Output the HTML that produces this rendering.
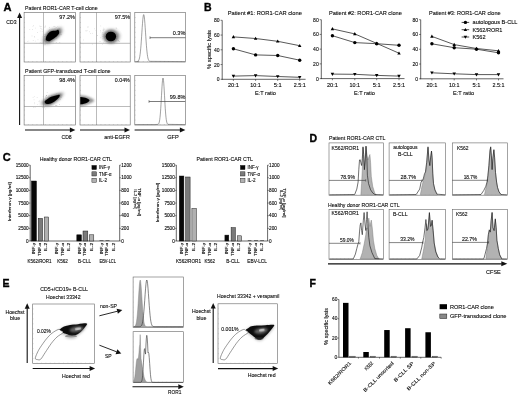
<!DOCTYPE html>
<html><head><meta charset="utf-8"><style>
html,body{margin:0;padding:0;background:#fff;width:520px;height:398px;overflow:hidden}
svg{display:block}
text{font-family:'Liberation Sans', sans-serif;stroke:#222;stroke-width:0.12px}
</style></head><body>
<svg width="520" height="398" viewBox="0 0 520 398">
<defs>
<filter id="b05" x="-50%" y="-50%" width="200%" height="200%"><feGaussianBlur stdDeviation="0.5"/></filter>
<filter id="b07" x="-50%" y="-50%" width="200%" height="200%"><feGaussianBlur stdDeviation="0.7"/></filter>
<filter id="b1" x="-50%" y="-50%" width="200%" height="200%"><feGaussianBlur stdDeviation="0.9"/></filter>
<filter id="b2" x="-50%" y="-50%" width="200%" height="200%"><feGaussianBlur stdDeviation="1.8"/></filter>
</defs>
<rect width="520" height="398" fill="#fff"/>
<text x="3.60" y="10.60" font-size="10.5" textLength="8.00" lengthAdjust="spacingAndGlyphs" font-weight="bold" style="stroke:#000;stroke-width:0.35px" fill="#000" >A</text>
<text x="25.10" y="10.30" font-size="6.0" textLength="72.50" lengthAdjust="spacingAndGlyphs" >Patient ROR1-CAR T-cell clone</text>
<text x="25.10" y="73.30" font-size="6.0" textLength="85.50" lengthAdjust="spacingAndGlyphs" >Patient GFP-transduced T-cell clone</text>
<rect x="24.10" y="12.60" width="51.30" height="49.40" fill="none" stroke="#666" stroke-width="0.6" />
<line x1="28.38" y1="61.10" x2="28.38" y2="62.00" stroke="#999" stroke-width="0.4" />
<line x1="32.65" y1="61.10" x2="32.65" y2="62.00" stroke="#999" stroke-width="0.4" />
<line x1="36.93" y1="61.10" x2="36.93" y2="62.00" stroke="#999" stroke-width="0.4" />
<line x1="41.20" y1="61.10" x2="41.20" y2="62.00" stroke="#999" stroke-width="0.4" />
<line x1="45.48" y1="61.10" x2="45.48" y2="62.00" stroke="#999" stroke-width="0.4" />
<line x1="49.75" y1="61.10" x2="49.75" y2="62.00" stroke="#999" stroke-width="0.4" />
<line x1="54.03" y1="61.10" x2="54.03" y2="62.00" stroke="#999" stroke-width="0.4" />
<line x1="58.30" y1="61.10" x2="58.30" y2="62.00" stroke="#999" stroke-width="0.4" />
<line x1="62.58" y1="61.10" x2="62.58" y2="62.00" stroke="#999" stroke-width="0.4" />
<line x1="66.85" y1="61.10" x2="66.85" y2="62.00" stroke="#999" stroke-width="0.4" />
<line x1="71.12" y1="61.10" x2="71.12" y2="62.00" stroke="#999" stroke-width="0.4" />
<line x1="24.10" y1="17.54" x2="25.00" y2="17.54" stroke="#999" stroke-width="0.4" />
<line x1="24.10" y1="22.48" x2="25.00" y2="22.48" stroke="#999" stroke-width="0.4" />
<line x1="24.10" y1="27.42" x2="25.00" y2="27.42" stroke="#999" stroke-width="0.4" />
<line x1="24.10" y1="32.36" x2="25.00" y2="32.36" stroke="#999" stroke-width="0.4" />
<line x1="24.10" y1="37.30" x2="25.00" y2="37.30" stroke="#999" stroke-width="0.4" />
<line x1="24.10" y1="42.24" x2="25.00" y2="42.24" stroke="#999" stroke-width="0.4" />
<line x1="24.10" y1="47.18" x2="25.00" y2="47.18" stroke="#999" stroke-width="0.4" />
<line x1="24.10" y1="52.12" x2="25.00" y2="52.12" stroke="#999" stroke-width="0.4" />
<line x1="24.10" y1="57.06" x2="25.00" y2="57.06" stroke="#999" stroke-width="0.4" />
<line x1="43.50" y1="12.60" x2="43.50" y2="62.00" stroke="#777" stroke-width="0.5" />
<line x1="24.10" y1="43.30" x2="75.40" y2="43.30" stroke="#777" stroke-width="0.5" />
<rect x="80.00" y="12.60" width="50.20" height="49.40" fill="none" stroke="#666" stroke-width="0.6" />
<line x1="84.18" y1="61.10" x2="84.18" y2="62.00" stroke="#999" stroke-width="0.4" />
<line x1="88.37" y1="61.10" x2="88.37" y2="62.00" stroke="#999" stroke-width="0.4" />
<line x1="92.55" y1="61.10" x2="92.55" y2="62.00" stroke="#999" stroke-width="0.4" />
<line x1="96.73" y1="61.10" x2="96.73" y2="62.00" stroke="#999" stroke-width="0.4" />
<line x1="100.92" y1="61.10" x2="100.92" y2="62.00" stroke="#999" stroke-width="0.4" />
<line x1="105.10" y1="61.10" x2="105.10" y2="62.00" stroke="#999" stroke-width="0.4" />
<line x1="109.28" y1="61.10" x2="109.28" y2="62.00" stroke="#999" stroke-width="0.4" />
<line x1="113.47" y1="61.10" x2="113.47" y2="62.00" stroke="#999" stroke-width="0.4" />
<line x1="117.65" y1="61.10" x2="117.65" y2="62.00" stroke="#999" stroke-width="0.4" />
<line x1="121.83" y1="61.10" x2="121.83" y2="62.00" stroke="#999" stroke-width="0.4" />
<line x1="126.02" y1="61.10" x2="126.02" y2="62.00" stroke="#999" stroke-width="0.4" />
<line x1="80.00" y1="17.54" x2="80.90" y2="17.54" stroke="#999" stroke-width="0.4" />
<line x1="80.00" y1="22.48" x2="80.90" y2="22.48" stroke="#999" stroke-width="0.4" />
<line x1="80.00" y1="27.42" x2="80.90" y2="27.42" stroke="#999" stroke-width="0.4" />
<line x1="80.00" y1="32.36" x2="80.90" y2="32.36" stroke="#999" stroke-width="0.4" />
<line x1="80.00" y1="37.30" x2="80.90" y2="37.30" stroke="#999" stroke-width="0.4" />
<line x1="80.00" y1="42.24" x2="80.90" y2="42.24" stroke="#999" stroke-width="0.4" />
<line x1="80.00" y1="47.18" x2="80.90" y2="47.18" stroke="#999" stroke-width="0.4" />
<line x1="80.00" y1="52.12" x2="80.90" y2="52.12" stroke="#999" stroke-width="0.4" />
<line x1="80.00" y1="57.06" x2="80.90" y2="57.06" stroke="#999" stroke-width="0.4" />
<line x1="96.50" y1="12.60" x2="96.50" y2="62.00" stroke="#777" stroke-width="0.5" />
<line x1="80.00" y1="43.30" x2="130.20" y2="43.30" stroke="#777" stroke-width="0.5" />
<rect x="134.80" y="12.60" width="50.70" height="49.40" fill="none" stroke="#666" stroke-width="0.6" />
<line x1="139.03" y1="61.10" x2="139.03" y2="62.00" stroke="#999" stroke-width="0.4" />
<line x1="143.25" y1="61.10" x2="143.25" y2="62.00" stroke="#999" stroke-width="0.4" />
<line x1="147.48" y1="61.10" x2="147.48" y2="62.00" stroke="#999" stroke-width="0.4" />
<line x1="151.70" y1="61.10" x2="151.70" y2="62.00" stroke="#999" stroke-width="0.4" />
<line x1="155.93" y1="61.10" x2="155.93" y2="62.00" stroke="#999" stroke-width="0.4" />
<line x1="160.15" y1="61.10" x2="160.15" y2="62.00" stroke="#999" stroke-width="0.4" />
<line x1="164.38" y1="61.10" x2="164.38" y2="62.00" stroke="#999" stroke-width="0.4" />
<line x1="168.60" y1="61.10" x2="168.60" y2="62.00" stroke="#999" stroke-width="0.4" />
<line x1="172.82" y1="61.10" x2="172.82" y2="62.00" stroke="#999" stroke-width="0.4" />
<line x1="177.05" y1="61.10" x2="177.05" y2="62.00" stroke="#999" stroke-width="0.4" />
<line x1="181.28" y1="61.10" x2="181.28" y2="62.00" stroke="#999" stroke-width="0.4" />
<line x1="134.80" y1="17.54" x2="135.70" y2="17.54" stroke="#999" stroke-width="0.4" />
<line x1="134.80" y1="22.48" x2="135.70" y2="22.48" stroke="#999" stroke-width="0.4" />
<line x1="134.80" y1="27.42" x2="135.70" y2="27.42" stroke="#999" stroke-width="0.4" />
<line x1="134.80" y1="32.36" x2="135.70" y2="32.36" stroke="#999" stroke-width="0.4" />
<line x1="134.80" y1="37.30" x2="135.70" y2="37.30" stroke="#999" stroke-width="0.4" />
<line x1="134.80" y1="42.24" x2="135.70" y2="42.24" stroke="#999" stroke-width="0.4" />
<line x1="134.80" y1="47.18" x2="135.70" y2="47.18" stroke="#999" stroke-width="0.4" />
<line x1="134.80" y1="52.12" x2="135.70" y2="52.12" stroke="#999" stroke-width="0.4" />
<line x1="134.80" y1="57.06" x2="135.70" y2="57.06" stroke="#999" stroke-width="0.4" />
<rect x="24.10" y="75.50" width="51.30" height="49.50" fill="none" stroke="#666" stroke-width="0.6" />
<line x1="28.38" y1="124.10" x2="28.38" y2="125.00" stroke="#999" stroke-width="0.4" />
<line x1="32.65" y1="124.10" x2="32.65" y2="125.00" stroke="#999" stroke-width="0.4" />
<line x1="36.93" y1="124.10" x2="36.93" y2="125.00" stroke="#999" stroke-width="0.4" />
<line x1="41.20" y1="124.10" x2="41.20" y2="125.00" stroke="#999" stroke-width="0.4" />
<line x1="45.48" y1="124.10" x2="45.48" y2="125.00" stroke="#999" stroke-width="0.4" />
<line x1="49.75" y1="124.10" x2="49.75" y2="125.00" stroke="#999" stroke-width="0.4" />
<line x1="54.03" y1="124.10" x2="54.03" y2="125.00" stroke="#999" stroke-width="0.4" />
<line x1="58.30" y1="124.10" x2="58.30" y2="125.00" stroke="#999" stroke-width="0.4" />
<line x1="62.58" y1="124.10" x2="62.58" y2="125.00" stroke="#999" stroke-width="0.4" />
<line x1="66.85" y1="124.10" x2="66.85" y2="125.00" stroke="#999" stroke-width="0.4" />
<line x1="71.12" y1="124.10" x2="71.12" y2="125.00" stroke="#999" stroke-width="0.4" />
<line x1="24.10" y1="80.45" x2="25.00" y2="80.45" stroke="#999" stroke-width="0.4" />
<line x1="24.10" y1="85.40" x2="25.00" y2="85.40" stroke="#999" stroke-width="0.4" />
<line x1="24.10" y1="90.35" x2="25.00" y2="90.35" stroke="#999" stroke-width="0.4" />
<line x1="24.10" y1="95.30" x2="25.00" y2="95.30" stroke="#999" stroke-width="0.4" />
<line x1="24.10" y1="100.25" x2="25.00" y2="100.25" stroke="#999" stroke-width="0.4" />
<line x1="24.10" y1="105.20" x2="25.00" y2="105.20" stroke="#999" stroke-width="0.4" />
<line x1="24.10" y1="110.15" x2="25.00" y2="110.15" stroke="#999" stroke-width="0.4" />
<line x1="24.10" y1="115.10" x2="25.00" y2="115.10" stroke="#999" stroke-width="0.4" />
<line x1="24.10" y1="120.05" x2="25.00" y2="120.05" stroke="#999" stroke-width="0.4" />
<line x1="43.50" y1="75.50" x2="43.50" y2="125.00" stroke="#777" stroke-width="0.5" />
<line x1="24.10" y1="106.50" x2="75.40" y2="106.50" stroke="#777" stroke-width="0.5" />
<rect x="80.00" y="75.50" width="50.20" height="49.50" fill="none" stroke="#666" stroke-width="0.6" />
<line x1="84.18" y1="124.10" x2="84.18" y2="125.00" stroke="#999" stroke-width="0.4" />
<line x1="88.37" y1="124.10" x2="88.37" y2="125.00" stroke="#999" stroke-width="0.4" />
<line x1="92.55" y1="124.10" x2="92.55" y2="125.00" stroke="#999" stroke-width="0.4" />
<line x1="96.73" y1="124.10" x2="96.73" y2="125.00" stroke="#999" stroke-width="0.4" />
<line x1="100.92" y1="124.10" x2="100.92" y2="125.00" stroke="#999" stroke-width="0.4" />
<line x1="105.10" y1="124.10" x2="105.10" y2="125.00" stroke="#999" stroke-width="0.4" />
<line x1="109.28" y1="124.10" x2="109.28" y2="125.00" stroke="#999" stroke-width="0.4" />
<line x1="113.47" y1="124.10" x2="113.47" y2="125.00" stroke="#999" stroke-width="0.4" />
<line x1="117.65" y1="124.10" x2="117.65" y2="125.00" stroke="#999" stroke-width="0.4" />
<line x1="121.83" y1="124.10" x2="121.83" y2="125.00" stroke="#999" stroke-width="0.4" />
<line x1="126.02" y1="124.10" x2="126.02" y2="125.00" stroke="#999" stroke-width="0.4" />
<line x1="80.00" y1="80.45" x2="80.90" y2="80.45" stroke="#999" stroke-width="0.4" />
<line x1="80.00" y1="85.40" x2="80.90" y2="85.40" stroke="#999" stroke-width="0.4" />
<line x1="80.00" y1="90.35" x2="80.90" y2="90.35" stroke="#999" stroke-width="0.4" />
<line x1="80.00" y1="95.30" x2="80.90" y2="95.30" stroke="#999" stroke-width="0.4" />
<line x1="80.00" y1="100.25" x2="80.90" y2="100.25" stroke="#999" stroke-width="0.4" />
<line x1="80.00" y1="105.20" x2="80.90" y2="105.20" stroke="#999" stroke-width="0.4" />
<line x1="80.00" y1="110.15" x2="80.90" y2="110.15" stroke="#999" stroke-width="0.4" />
<line x1="80.00" y1="115.10" x2="80.90" y2="115.10" stroke="#999" stroke-width="0.4" />
<line x1="80.00" y1="120.05" x2="80.90" y2="120.05" stroke="#999" stroke-width="0.4" />
<line x1="96.50" y1="75.50" x2="96.50" y2="125.00" stroke="#777" stroke-width="0.5" />
<line x1="80.00" y1="106.50" x2="130.20" y2="106.50" stroke="#777" stroke-width="0.5" />
<rect x="134.80" y="75.50" width="50.70" height="49.50" fill="none" stroke="#666" stroke-width="0.6" />
<line x1="139.03" y1="124.10" x2="139.03" y2="125.00" stroke="#999" stroke-width="0.4" />
<line x1="143.25" y1="124.10" x2="143.25" y2="125.00" stroke="#999" stroke-width="0.4" />
<line x1="147.48" y1="124.10" x2="147.48" y2="125.00" stroke="#999" stroke-width="0.4" />
<line x1="151.70" y1="124.10" x2="151.70" y2="125.00" stroke="#999" stroke-width="0.4" />
<line x1="155.93" y1="124.10" x2="155.93" y2="125.00" stroke="#999" stroke-width="0.4" />
<line x1="160.15" y1="124.10" x2="160.15" y2="125.00" stroke="#999" stroke-width="0.4" />
<line x1="164.38" y1="124.10" x2="164.38" y2="125.00" stroke="#999" stroke-width="0.4" />
<line x1="168.60" y1="124.10" x2="168.60" y2="125.00" stroke="#999" stroke-width="0.4" />
<line x1="172.82" y1="124.10" x2="172.82" y2="125.00" stroke="#999" stroke-width="0.4" />
<line x1="177.05" y1="124.10" x2="177.05" y2="125.00" stroke="#999" stroke-width="0.4" />
<line x1="181.28" y1="124.10" x2="181.28" y2="125.00" stroke="#999" stroke-width="0.4" />
<line x1="134.80" y1="80.45" x2="135.70" y2="80.45" stroke="#999" stroke-width="0.4" />
<line x1="134.80" y1="85.40" x2="135.70" y2="85.40" stroke="#999" stroke-width="0.4" />
<line x1="134.80" y1="90.35" x2="135.70" y2="90.35" stroke="#999" stroke-width="0.4" />
<line x1="134.80" y1="95.30" x2="135.70" y2="95.30" stroke="#999" stroke-width="0.4" />
<line x1="134.80" y1="100.25" x2="135.70" y2="100.25" stroke="#999" stroke-width="0.4" />
<line x1="134.80" y1="105.20" x2="135.70" y2="105.20" stroke="#999" stroke-width="0.4" />
<line x1="134.80" y1="110.15" x2="135.70" y2="110.15" stroke="#999" stroke-width="0.4" />
<line x1="134.80" y1="115.10" x2="135.70" y2="115.10" stroke="#999" stroke-width="0.4" />
<line x1="134.80" y1="120.05" x2="135.70" y2="120.05" stroke="#999" stroke-width="0.4" />
<text x="74.80" y="19.00" font-size="5.8" text-anchor="end" textLength="15.50" lengthAdjust="spacingAndGlyphs" >97.2%</text>
<text x="130.20" y="19.00" font-size="5.8" text-anchor="end" textLength="15.50" lengthAdjust="spacingAndGlyphs" >97.5%</text>
<text x="74.80" y="82.00" font-size="5.8" text-anchor="end" textLength="15.50" lengthAdjust="spacingAndGlyphs" >98.4%</text>
<text x="129.80" y="82.00" font-size="5.8" text-anchor="end" textLength="15.00" lengthAdjust="spacingAndGlyphs" >0.04%</text>
<circle cx="32.00" cy="35.88" r="0.35" fill="#bbb"/>
<circle cx="34.77" cy="37.08" r="0.35" fill="#bbb"/>
<circle cx="40.14" cy="26.31" r="0.35" fill="#bbb"/>
<circle cx="27.28" cy="41.75" r="0.35" fill="#bbb"/>
<circle cx="32.45" cy="29.69" r="0.35" fill="#bbb"/>
<circle cx="47.91" cy="34.41" r="0.35" fill="#bbb"/>
<circle cx="44.57" cy="34.53" r="0.35" fill="#bbb"/>
<circle cx="40.42" cy="28.01" r="0.35" fill="#bbb"/>
<circle cx="40.33" cy="42.36" r="0.35" fill="#bbb"/>
<circle cx="37.99" cy="39.83" r="0.35" fill="#bbb"/>
<circle cx="41.10" cy="26.28" r="0.35" fill="#bbb"/>
<circle cx="42.92" cy="36.82" r="0.35" fill="#bbb"/>
<circle cx="33.33" cy="25.62" r="0.35" fill="#bbb"/>
<circle cx="45.18" cy="34.45" r="0.35" fill="#bbb"/>
<circle cx="42.10" cy="42.58" r="0.35" fill="#bbb"/>
<circle cx="42.00" cy="43.42" r="0.35" fill="#bbb"/>
<circle cx="35.29" cy="41.02" r="0.35" fill="#bbb"/>
<circle cx="36.34" cy="43.71" r="0.35" fill="#bbb"/>
<circle cx="45.46" cy="26.95" r="0.35" fill="#bbb"/>
<circle cx="29.86" cy="29.34" r="0.35" fill="#bbb"/>
<circle cx="47.28" cy="33.72" r="0.35" fill="#bbb"/>
<circle cx="40.16" cy="31.02" r="0.35" fill="#bbb"/>
<circle cx="37.65" cy="32.72" r="0.35" fill="#bbb"/>
<circle cx="34.37" cy="36.70" r="0.35" fill="#bbb"/>
<circle cx="39.27" cy="43.08" r="0.35" fill="#bbb"/>
<circle cx="41.32" cy="43.58" r="0.35" fill="#bbb"/>
<circle cx="44.98" cy="44.82" r="0.35" fill="#bbb"/>
<circle cx="41.10" cy="28.26" r="0.35" fill="#bbb"/>
<circle cx="45.07" cy="44.29" r="0.35" fill="#bbb"/>
<circle cx="46.00" cy="36.38" r="0.35" fill="#bbb"/>
<circle cx="41.99" cy="29.22" r="0.35" fill="#bbb"/>
<circle cx="44.46" cy="36.47" r="0.35" fill="#bbb"/>
<circle cx="32.98" cy="26.27" r="0.35" fill="#bbb"/>
<circle cx="44.93" cy="44.80" r="0.35" fill="#bbb"/>
<circle cx="28.86" cy="41.01" r="0.35" fill="#bbb"/>
<circle cx="35.62" cy="28.02" r="0.35" fill="#bbb"/>
<circle cx="33.17" cy="40.38" r="0.35" fill="#bbb"/>
<circle cx="45.33" cy="25.88" r="0.35" fill="#bbb"/>
<circle cx="39.91" cy="25.90" r="0.35" fill="#bbb"/>
<circle cx="42.09" cy="31.62" r="0.35" fill="#bbb"/>
<circle cx="59.86" cy="42.67" r="0.3" fill="#999"/>
<circle cx="53.10" cy="42.97" r="0.3" fill="#999"/>
<circle cx="49.57" cy="27.31" r="0.3" fill="#999"/>
<circle cx="54.80" cy="26.53" r="0.3" fill="#999"/>
<circle cx="47.55" cy="32.93" r="0.3" fill="#999"/>
<circle cx="54.99" cy="28.66" r="0.3" fill="#999"/>
<circle cx="44.76" cy="40.75" r="0.3" fill="#999"/>
<circle cx="49.65" cy="42.30" r="0.3" fill="#999"/>
<circle cx="60.14" cy="32.42" r="0.3" fill="#999"/>
<circle cx="52.29" cy="34.84" r="0.3" fill="#999"/>
<circle cx="55.59" cy="36.13" r="0.3" fill="#999"/>
<circle cx="54.07" cy="36.54" r="0.3" fill="#999"/>
<circle cx="60.93" cy="34.62" r="0.3" fill="#999"/>
<circle cx="51.76" cy="38.25" r="0.3" fill="#999"/>
<circle cx="48.28" cy="31.12" r="0.3" fill="#999"/>
<circle cx="61.60" cy="34.86" r="0.3" fill="#999"/>
<circle cx="53.87" cy="26.19" r="0.3" fill="#999"/>
<circle cx="51.47" cy="35.86" r="0.3" fill="#999"/>
<circle cx="44.36" cy="36.47" r="0.3" fill="#999"/>
<circle cx="55.38" cy="27.02" r="0.3" fill="#999"/>
<circle cx="55.29" cy="33.93" r="0.3" fill="#999"/>
<circle cx="56.23" cy="31.99" r="0.3" fill="#999"/>
<circle cx="56.73" cy="38.55" r="0.3" fill="#999"/>
<circle cx="44.40" cy="27.03" r="0.3" fill="#999"/>
<circle cx="56.17" cy="42.38" r="0.3" fill="#999"/>
<circle cx="48.52" cy="33.76" r="0.3" fill="#999"/>
<circle cx="54.67" cy="31.44" r="0.3" fill="#999"/>
<circle cx="50.55" cy="31.32" r="0.3" fill="#999"/>
<circle cx="50.64" cy="36.13" r="0.3" fill="#999"/>
<circle cx="49.41" cy="32.41" r="0.3" fill="#999"/>
<circle cx="57.90" cy="26.46" r="0.3" fill="#999"/>
<circle cx="54.25" cy="38.50" r="0.3" fill="#999"/>
<circle cx="49.58" cy="29.78" r="0.3" fill="#999"/>
<circle cx="58.47" cy="30.06" r="0.3" fill="#999"/>
<circle cx="47.37" cy="33.40" r="0.3" fill="#999"/>
<circle cx="56.57" cy="27.73" r="0.3" fill="#999"/>
<circle cx="49.80" cy="31.67" r="0.3" fill="#999"/>
<circle cx="59.00" cy="33.45" r="0.3" fill="#999"/>
<circle cx="59.40" cy="28.88" r="0.3" fill="#999"/>
<circle cx="50.06" cy="37.05" r="0.3" fill="#999"/>
<path d="M42.43,41.95 C42.43,40.67 42.80,37.79 44.03,35.71 C45.25,33.63 47.39,30.75 49.79,29.47 C52.19,28.19 56.51,28.45 58.43,28.03 C60.35,27.60 60.59,26.27 61.31,26.91 C62.03,27.55 63.23,30.08 62.75,31.87 C62.27,33.65 60.75,35.63 58.43,37.63 C56.11,39.63 51.23,42.91 48.83,43.87 C46.43,44.83 45.09,43.71 44.03,43.39 C42.96,43.07 42.43,43.23 42.43,41.95 Z" fill="#888" opacity="0.6" filter="url(#b2)"/>
<path d="M44.26,40.72 C44.26,39.68 44.57,37.34 45.56,35.65 C46.56,33.96 48.29,31.62 50.24,30.58 C52.19,29.54 55.70,29.76 57.26,29.41 C58.82,29.07 59.02,27.98 59.60,28.50 C60.19,29.02 61.16,31.08 60.77,32.53 C60.38,33.99 59.15,35.59 57.26,37.21 C55.38,38.84 51.41,41.50 49.46,42.28 C47.51,43.06 46.43,42.15 45.56,41.89 C44.70,41.63 44.26,41.76 44.26,40.72 Z" fill="#555" opacity="0.7" filter="url(#b1)"/>
<path d="M45.79,39.70 C45.79,38.86 46.04,36.97 46.84,35.61 C47.65,34.24 49.05,32.35 50.62,31.51 C52.20,30.67 55.03,30.85 56.29,30.57 C57.55,30.29 57.71,29.41 58.18,29.83 C58.66,30.25 59.44,31.92 59.13,33.09 C58.81,34.26 57.82,35.56 56.29,36.87 C54.77,38.18 51.57,40.33 49.99,40.96 C48.42,41.59 47.54,40.86 46.84,40.65 C46.14,40.44 45.79,40.54 45.79,39.70 Z" fill="#000" opacity="1.0" filter="url(#b07)"/>
<circle cx="102.47" cy="34.02" r="0.35" fill="#bbb"/>
<circle cx="87.95" cy="27.42" r="0.35" fill="#bbb"/>
<circle cx="94.65" cy="28.82" r="0.35" fill="#bbb"/>
<circle cx="100.75" cy="41.77" r="0.35" fill="#bbb"/>
<circle cx="87.04" cy="30.57" r="0.35" fill="#bbb"/>
<circle cx="100.76" cy="37.84" r="0.35" fill="#bbb"/>
<circle cx="100.74" cy="31.91" r="0.35" fill="#bbb"/>
<circle cx="85.85" cy="30.84" r="0.35" fill="#bbb"/>
<circle cx="100.46" cy="30.42" r="0.35" fill="#bbb"/>
<circle cx="90.62" cy="33.34" r="0.35" fill="#bbb"/>
<circle cx="92.23" cy="33.19" r="0.35" fill="#bbb"/>
<circle cx="103.25" cy="28.12" r="0.35" fill="#bbb"/>
<circle cx="83.10" cy="43.87" r="0.35" fill="#bbb"/>
<circle cx="102.36" cy="44.74" r="0.35" fill="#bbb"/>
<circle cx="92.56" cy="44.00" r="0.35" fill="#bbb"/>
<circle cx="103.40" cy="29.44" r="0.35" fill="#bbb"/>
<circle cx="99.40" cy="41.73" r="0.35" fill="#bbb"/>
<circle cx="97.59" cy="35.38" r="0.35" fill="#bbb"/>
<circle cx="89.36" cy="31.82" r="0.35" fill="#bbb"/>
<circle cx="88.00" cy="26.36" r="0.35" fill="#bbb"/>
<circle cx="95.95" cy="30.74" r="0.35" fill="#bbb"/>
<circle cx="100.82" cy="25.90" r="0.35" fill="#bbb"/>
<circle cx="102.88" cy="38.87" r="0.35" fill="#bbb"/>
<circle cx="103.32" cy="42.93" r="0.35" fill="#bbb"/>
<circle cx="102.79" cy="36.54" r="0.35" fill="#bbb"/>
<circle cx="83.29" cy="39.91" r="0.35" fill="#bbb"/>
<circle cx="86.78" cy="31.00" r="0.35" fill="#bbb"/>
<circle cx="97.58" cy="35.50" r="0.35" fill="#bbb"/>
<circle cx="92.10" cy="43.78" r="0.35" fill="#bbb"/>
<circle cx="96.47" cy="31.83" r="0.35" fill="#bbb"/>
<circle cx="106.54" cy="41.79" r="0.3" fill="#999"/>
<circle cx="110.59" cy="40.52" r="0.3" fill="#999"/>
<circle cx="108.33" cy="31.16" r="0.3" fill="#999"/>
<circle cx="111.62" cy="41.07" r="0.3" fill="#999"/>
<circle cx="105.08" cy="40.67" r="0.3" fill="#999"/>
<circle cx="118.59" cy="40.90" r="0.3" fill="#999"/>
<circle cx="116.82" cy="28.12" r="0.3" fill="#999"/>
<circle cx="113.31" cy="41.80" r="0.3" fill="#999"/>
<circle cx="102.90" cy="32.34" r="0.3" fill="#999"/>
<circle cx="106.83" cy="36.44" r="0.3" fill="#999"/>
<circle cx="109.61" cy="35.57" r="0.3" fill="#999"/>
<circle cx="115.98" cy="28.03" r="0.3" fill="#999"/>
<circle cx="102.99" cy="30.03" r="0.3" fill="#999"/>
<circle cx="104.24" cy="29.09" r="0.3" fill="#999"/>
<circle cx="119.54" cy="41.67" r="0.3" fill="#999"/>
<circle cx="103.55" cy="36.03" r="0.3" fill="#999"/>
<circle cx="107.69" cy="33.03" r="0.3" fill="#999"/>
<circle cx="108.32" cy="38.35" r="0.3" fill="#999"/>
<circle cx="112.56" cy="33.77" r="0.3" fill="#999"/>
<circle cx="105.44" cy="33.26" r="0.3" fill="#999"/>
<circle cx="104.23" cy="36.89" r="0.3" fill="#999"/>
<circle cx="114.89" cy="34.08" r="0.3" fill="#999"/>
<circle cx="103.44" cy="30.86" r="0.3" fill="#999"/>
<circle cx="108.72" cy="37.67" r="0.3" fill="#999"/>
<circle cx="116.09" cy="34.08" r="0.3" fill="#999"/>
<circle cx="116.42" cy="37.97" r="0.3" fill="#999"/>
<circle cx="109.77" cy="33.96" r="0.3" fill="#999"/>
<circle cx="110.93" cy="39.25" r="0.3" fill="#999"/>
<circle cx="109.57" cy="39.11" r="0.3" fill="#999"/>
<circle cx="110.30" cy="31.92" r="0.3" fill="#999"/>
<circle cx="111.65" cy="39.12" r="0.3" fill="#999"/>
<circle cx="103.29" cy="34.80" r="0.3" fill="#999"/>
<circle cx="109.67" cy="42.07" r="0.3" fill="#999"/>
<circle cx="118.86" cy="33.99" r="0.3" fill="#999"/>
<circle cx="118.16" cy="40.65" r="0.3" fill="#999"/>
<circle cx="106.72" cy="35.43" r="0.3" fill="#999"/>
<circle cx="104.22" cy="41.01" r="0.3" fill="#999"/>
<circle cx="113.92" cy="42.20" r="0.3" fill="#999"/>
<circle cx="116.26" cy="38.68" r="0.3" fill="#999"/>
<circle cx="115.21" cy="37.02" r="0.3" fill="#999"/>
<ellipse cx="111.3" cy="36.3" rx="9.0" ry="7.2" fill="#888" opacity="0.6" filter="url(#b2)"/>
<ellipse cx="110.9" cy="36.5" rx="7.0" ry="6.4" fill="#555" opacity="0.7" filter="url(#b1)"/>
<ellipse cx="110.9" cy="36.5" rx="5.2" ry="4.8" fill="#000" filter="url(#b07)"/>
<circle cx="34.75" cy="103.82" r="0.35" fill="#bbb"/>
<circle cx="33.08" cy="97.15" r="0.35" fill="#bbb"/>
<circle cx="46.16" cy="95.66" r="0.35" fill="#bbb"/>
<circle cx="34.56" cy="96.49" r="0.35" fill="#bbb"/>
<circle cx="47.97" cy="97.69" r="0.35" fill="#bbb"/>
<circle cx="33.40" cy="107.62" r="0.35" fill="#bbb"/>
<circle cx="35.06" cy="107.66" r="0.35" fill="#bbb"/>
<circle cx="44.45" cy="107.54" r="0.35" fill="#bbb"/>
<circle cx="49.19" cy="103.69" r="0.35" fill="#bbb"/>
<circle cx="46.58" cy="95.54" r="0.35" fill="#bbb"/>
<circle cx="46.05" cy="102.67" r="0.35" fill="#bbb"/>
<circle cx="45.16" cy="96.60" r="0.35" fill="#bbb"/>
<circle cx="45.73" cy="109.02" r="0.35" fill="#bbb"/>
<circle cx="34.04" cy="99.86" r="0.35" fill="#bbb"/>
<circle cx="42.59" cy="107.42" r="0.35" fill="#bbb"/>
<circle cx="37.12" cy="97.70" r="0.35" fill="#bbb"/>
<circle cx="37.25" cy="104.24" r="0.35" fill="#bbb"/>
<circle cx="45.81" cy="100.91" r="0.35" fill="#bbb"/>
<circle cx="39.25" cy="100.95" r="0.35" fill="#bbb"/>
<circle cx="38.95" cy="101.27" r="0.35" fill="#bbb"/>
<circle cx="34.42" cy="102.50" r="0.35" fill="#bbb"/>
<circle cx="49.54" cy="101.19" r="0.35" fill="#bbb"/>
<circle cx="45.71" cy="97.41" r="0.35" fill="#bbb"/>
<circle cx="44.74" cy="106.34" r="0.35" fill="#bbb"/>
<circle cx="44.46" cy="102.76" r="0.35" fill="#bbb"/>
<circle cx="52.19" cy="101.00" r="0.3" fill="#999"/>
<circle cx="60.05" cy="94.09" r="0.3" fill="#999"/>
<circle cx="44.82" cy="102.47" r="0.3" fill="#999"/>
<circle cx="60.42" cy="99.24" r="0.3" fill="#999"/>
<circle cx="51.42" cy="102.06" r="0.3" fill="#999"/>
<circle cx="46.54" cy="95.74" r="0.3" fill="#999"/>
<circle cx="46.78" cy="100.20" r="0.3" fill="#999"/>
<circle cx="48.98" cy="95.25" r="0.3" fill="#999"/>
<circle cx="56.13" cy="105.35" r="0.3" fill="#999"/>
<circle cx="48.62" cy="101.87" r="0.3" fill="#999"/>
<circle cx="50.85" cy="103.95" r="0.3" fill="#999"/>
<circle cx="54.11" cy="95.74" r="0.3" fill="#999"/>
<circle cx="47.13" cy="92.32" r="0.3" fill="#999"/>
<circle cx="52.11" cy="97.36" r="0.3" fill="#999"/>
<circle cx="46.27" cy="97.05" r="0.3" fill="#999"/>
<circle cx="49.12" cy="102.84" r="0.3" fill="#999"/>
<circle cx="45.73" cy="105.88" r="0.3" fill="#999"/>
<circle cx="52.11" cy="100.39" r="0.3" fill="#999"/>
<circle cx="51.89" cy="103.68" r="0.3" fill="#999"/>
<circle cx="58.61" cy="99.80" r="0.3" fill="#999"/>
<circle cx="52.14" cy="102.09" r="0.3" fill="#999"/>
<circle cx="59.28" cy="97.60" r="0.3" fill="#999"/>
<circle cx="56.94" cy="105.44" r="0.3" fill="#999"/>
<circle cx="51.88" cy="95.21" r="0.3" fill="#999"/>
<circle cx="47.46" cy="102.05" r="0.3" fill="#999"/>
<circle cx="55.83" cy="105.42" r="0.3" fill="#999"/>
<circle cx="59.22" cy="95.39" r="0.3" fill="#999"/>
<circle cx="46.60" cy="95.62" r="0.3" fill="#999"/>
<circle cx="46.56" cy="101.87" r="0.3" fill="#999"/>
<circle cx="59.31" cy="104.60" r="0.3" fill="#999"/>
<circle cx="47.85" cy="104.11" r="0.3" fill="#999"/>
<circle cx="48.95" cy="97.93" r="0.3" fill="#999"/>
<circle cx="56.85" cy="93.20" r="0.3" fill="#999"/>
<circle cx="44.76" cy="103.68" r="0.3" fill="#999"/>
<circle cx="48.54" cy="96.99" r="0.3" fill="#999"/>
<circle cx="54.03" cy="101.46" r="0.3" fill="#999"/>
<circle cx="43.13" cy="96.69" r="0.3" fill="#999"/>
<circle cx="51.29" cy="98.80" r="0.3" fill="#999"/>
<circle cx="46.99" cy="100.19" r="0.3" fill="#999"/>
<circle cx="61.15" cy="97.47" r="0.3" fill="#999"/>
<path d="M41.13,103.94 C40.78,103.06 40.46,102.50 42.09,101.06 C43.71,99.62 47.66,96.74 50.89,95.30 C54.11,93.86 59.29,92.66 61.45,92.42 C63.61,92.18 64.01,92.82 63.85,93.86 C63.69,94.90 62.49,96.82 60.49,98.66 C58.49,100.50 54.57,103.62 51.85,104.90 C49.13,106.18 45.95,106.50 44.17,106.34 C42.38,106.18 41.47,104.82 41.13,103.94 Z" fill="#888" opacity="0.6" filter="url(#b2)"/>
<path d="M43.16,103.12 C42.88,102.41 42.62,101.95 43.94,100.78 C45.27,99.61 48.47,97.27 51.09,96.10 C53.72,94.93 57.92,93.96 59.67,93.76 C61.43,93.57 61.75,94.09 61.62,94.93 C61.49,95.78 60.52,97.34 58.89,98.83 C57.27,100.33 54.08,102.86 51.87,103.90 C49.66,104.94 47.09,105.20 45.63,105.07 C44.18,104.94 43.45,103.84 43.16,103.12 Z" fill="#555" opacity="0.7" filter="url(#b1)"/>
<path d="M44.86,102.44 C44.63,101.86 44.42,101.49 45.49,100.55 C46.56,99.60 49.15,97.71 51.27,96.77 C53.38,95.82 56.78,95.03 58.20,94.88 C59.61,94.72 59.88,95.14 59.77,95.82 C59.67,96.50 58.88,97.76 57.57,98.97 C56.25,100.18 53.68,102.23 51.90,103.07 C50.11,103.91 48.03,104.12 46.86,104.01 C45.68,103.91 45.09,103.01 44.86,102.44 Z" fill="#000" opacity="1.0" filter="url(#b07)"/>
<clipPath id="cA22"><rect x="80.3" y="75.8" width="49.6" height="49"/></clipPath>
<g clip-path="url(#cA22)">
<path d="M77.81,96.20 C78.82,94.55 81.85,95.54 83.86,95.76 C85.88,95.98 88.17,96.73 89.91,97.52 C91.66,98.30 94.31,99.50 94.31,100.49 C94.31,101.48 91.66,102.63 89.91,103.46 C88.17,104.28 85.88,105.07 83.86,105.44 C81.85,105.80 78.82,107.20 77.81,105.66 C76.81,104.12 76.81,97.85 77.81,96.20 Z" fill="#666" opacity="0.7" filter="url(#b1)"/>
<path d="M78.50,97.60 C79.42,96.50 82.45,97.20 84.00,97.40 C85.55,97.60 86.88,98.27 87.80,98.80 C88.72,99.33 89.55,99.98 89.50,100.60 C89.45,101.22 88.42,101.97 87.50,102.50 C86.58,103.03 85.50,103.55 84.00,103.80 C82.50,104.05 79.42,105.03 78.50,104.00 C77.58,102.97 77.58,98.70 78.50,97.60 Z" fill="#000" opacity="1.0" filter="url(#b05)"/>
</g>
<path d="M135.2,61.6 L138.5,61.6 137.70,61.34 L138.00,61.17 L138.30,60.91 L138.60,60.51 L138.90,59.92 L139.20,59.09 L139.50,57.94 L139.80,56.39 L140.10,54.39 L140.40,51.88 L140.70,48.82 L141.00,45.23 L141.30,41.17 L141.60,36.77 L141.90,32.19 L142.20,27.66 L142.50,23.44 L142.80,19.80 L143.10,16.99 L143.40,15.21 L143.70,14.60 L144.00,15.21 L144.30,16.99 L144.60,19.80 L144.90,23.44 L145.20,27.66 L145.50,32.19 L145.80,36.77 L146.10,41.17 L146.40,45.23 L146.70,48.82 L147.00,51.88 L147.30,54.39 L147.60,56.39 L147.90,57.94 L148.20,59.09 L148.50,59.92 L148.80,60.51 L149.10,60.91 L149.40,61.17 L149.70,61.34 L185,61.6" fill="none" stroke="#555" stroke-width="0.55" />
<line x1="150.00" y1="37.70" x2="185.50" y2="37.70" stroke="#444" stroke-width="0.7" />
<line x1="150.00" y1="36.40" x2="150.00" y2="39.00" stroke="#444" stroke-width="0.6" />
<text x="185.30" y="35.00" font-size="5.8" text-anchor="end" textLength="12.50" lengthAdjust="spacingAndGlyphs" >0.3%</text>
<path d="M135.0,124.6 L155,124.6 158.00,124.35 L158.25,124.18 L158.50,123.91 L158.75,123.52 L159.00,122.94 L159.25,122.11 L159.50,120.97 L159.75,119.44 L160.00,117.45 L160.25,114.96 L160.50,111.93 L160.75,108.37 L161.00,104.35 L161.25,99.98 L161.50,95.44 L161.75,90.95 L162.00,86.76 L162.25,83.15 L162.50,80.36 L162.75,78.60 L163.00,78.00 L163.25,78.60 L163.50,80.36 L163.75,83.15 L164.00,86.76 L164.25,90.95 L164.50,95.44 L164.75,99.98 L165.00,104.35 L165.25,108.37 L165.50,111.93 L165.75,114.96 L166.00,117.45 L166.25,119.44 L166.50,120.97 L166.75,122.11 L167.00,122.94 L167.25,123.52 L167.50,123.91 L167.75,124.18 L168.00,124.35 L185,124.6" fill="none" stroke="#555" stroke-width="0.55" />
<line x1="149.00" y1="101.50" x2="185.20" y2="101.50" stroke="#444" stroke-width="0.7" />
<line x1="149.00" y1="100.20" x2="149.00" y2="102.80" stroke="#444" stroke-width="0.6" />
<text x="185.30" y="99.00" font-size="5.8" text-anchor="end" textLength="15.50" lengthAdjust="spacingAndGlyphs" >99.8%</text>
<line x1="19.60" y1="125.00" x2="19.60" y2="17.60" stroke="#111" stroke-width="1.1" />
<polygon points="17.10,18.10 19.60,12.60 22.10,18.10" fill="#111"/>
<text x="16.50" y="24.00" font-size="5.8" text-anchor="end" textLength="10.20" lengthAdjust="spacingAndGlyphs" >CD3</text>
<line x1="25.00" y1="130.00" x2="70.40" y2="130.00" stroke="#111" stroke-width="1.1" />
<polygon points="69.90,127.50 75.40,130.00 69.90,132.50" fill="#111"/>
<line x1="80.00" y1="130.00" x2="125.00" y2="130.00" stroke="#111" stroke-width="1.1" />
<polygon points="124.50,127.50 130.00,130.00 124.50,132.50" fill="#111"/>
<line x1="134.60" y1="130.00" x2="180.40" y2="130.00" stroke="#111" stroke-width="1.1" />
<polygon points="179.90,127.50 185.40,130.00 179.90,132.50" fill="#111"/>
<text x="66.60" y="138.50" font-size="5.8" text-anchor="middle" textLength="10.20" lengthAdjust="spacingAndGlyphs" >CD8</text>
<text x="129.80" y="138.50" font-size="5.8" text-anchor="end" textLength="25.50" lengthAdjust="spacingAndGlyphs" >anti-EGFR</text>
<text x="173.00" y="138.70" font-size="6.2" text-anchor="middle" textLength="11.60" lengthAdjust="spacingAndGlyphs" >GFP</text>
<text x="204.00" y="11.00" font-size="10.5" font-weight="bold" style="stroke:#000;stroke-width:0.35px" fill="#000" >B</text>
<text x="227.70" y="15.00" font-size="6.0" textLength="74.20" lengthAdjust="spacingAndGlyphs" >Patient #1: ROR1-CAR clone</text>
<line x1="222.20" y1="20.30" x2="222.20" y2="79.65" stroke="#222" stroke-width="0.7" />
<line x1="221.85" y1="79.30" x2="305.60" y2="79.30" stroke="#222" stroke-width="0.7" />
<line x1="220.60" y1="79.30" x2="222.20" y2="79.30" stroke="#222" stroke-width="0.6" />
<text x="219.60" y="81.30" font-size="5.6" text-anchor="end" textLength="2.80" lengthAdjust="spacingAndGlyphs" >0</text>
<line x1="220.60" y1="64.55" x2="222.20" y2="64.55" stroke="#222" stroke-width="0.6" />
<text x="219.60" y="66.55" font-size="5.6" text-anchor="end" textLength="5.60" lengthAdjust="spacingAndGlyphs" >20</text>
<line x1="220.60" y1="49.80" x2="222.20" y2="49.80" stroke="#222" stroke-width="0.6" />
<text x="219.60" y="51.80" font-size="5.6" text-anchor="end" textLength="5.60" lengthAdjust="spacingAndGlyphs" >40</text>
<line x1="220.60" y1="35.05" x2="222.20" y2="35.05" stroke="#222" stroke-width="0.6" />
<text x="219.60" y="37.05" font-size="5.6" text-anchor="end" textLength="5.60" lengthAdjust="spacingAndGlyphs" >60</text>
<line x1="220.60" y1="20.30" x2="222.20" y2="20.30" stroke="#222" stroke-width="0.6" />
<text x="219.60" y="22.30" font-size="5.6" text-anchor="end" textLength="5.60" lengthAdjust="spacingAndGlyphs" >80</text>
<line x1="233.40" y1="79.30" x2="233.40" y2="80.90" stroke="#222" stroke-width="0.6" />
<text x="233.40" y="87.30" font-size="5.7" text-anchor="middle" textLength="11.00" lengthAdjust="spacingAndGlyphs" >20:1</text>
<line x1="255.60" y1="79.30" x2="255.60" y2="80.90" stroke="#222" stroke-width="0.6" />
<text x="255.60" y="87.30" font-size="5.7" text-anchor="middle" textLength="10.50" lengthAdjust="spacingAndGlyphs" >10:1</text>
<line x1="277.70" y1="79.30" x2="277.70" y2="80.90" stroke="#222" stroke-width="0.6" />
<text x="277.70" y="87.30" font-size="5.7" text-anchor="middle" textLength="8.00" lengthAdjust="spacingAndGlyphs" >5:1</text>
<line x1="299.70" y1="79.30" x2="299.70" y2="80.90" stroke="#222" stroke-width="0.6" />
<text x="299.70" y="87.30" font-size="5.7" text-anchor="middle" textLength="12.00" lengthAdjust="spacingAndGlyphs" >2.5:1</text>
<text x="265.40" y="94.80" font-size="5.8" text-anchor="middle" textLength="21.00" lengthAdjust="spacingAndGlyphs" >E:T ratio</text>
<text x="210.90" y="49.50" font-size="5.2" text-anchor="middle" textLength="39.00" lengthAdjust="spacingAndGlyphs" transform="rotate(-90 210.90 49.50)" >% specific lysis</text>
<polyline points="233.40,48.80 255.60,54.90 277.70,55.50 299.70,60.20" fill="none" stroke="#222" stroke-width="0.75"/>
<circle cx="233.40" cy="48.80" r="1.7" fill="#000"/>
<circle cx="255.60" cy="54.90" r="1.7" fill="#000"/>
<circle cx="277.70" cy="55.50" r="1.7" fill="#000"/>
<circle cx="299.70" cy="60.20" r="1.7" fill="#000"/>
<polyline points="233.40,36.90 255.60,38.50 277.70,41.30 299.70,45.70" fill="none" stroke="#222" stroke-width="0.75"/>
<polygon points="231.65,38.20 233.40,35.10 235.15,38.20" fill="#000"/>
<polygon points="253.85,39.80 255.60,36.70 257.35,39.80" fill="#000"/>
<polygon points="275.95,42.60 277.70,39.50 279.45,42.60" fill="#000"/>
<polygon points="297.95,47.00 299.70,43.90 301.45,47.00" fill="#000"/>
<polyline points="233.40,76.10 255.60,75.60 277.70,76.50 299.70,77.30" fill="none" stroke="#222" stroke-width="0.75"/>
<polygon points="231.65,74.80 233.40,77.90 235.15,74.80" fill="#000"/>
<polygon points="253.85,74.30 255.60,77.40 257.35,74.30" fill="#000"/>
<polygon points="275.95,75.20 277.70,78.30 279.45,75.20" fill="#000"/>
<polygon points="297.95,76.00 299.70,79.10 301.45,76.00" fill="#000"/>
<text x="328.90" y="15.00" font-size="6.0" textLength="72.90" lengthAdjust="spacingAndGlyphs" >Patient #2: ROR1-CAR clone</text>
<line x1="321.30" y1="19.70" x2="321.30" y2="78.95" stroke="#222" stroke-width="0.7" />
<line x1="320.95" y1="78.60" x2="404.50" y2="78.60" stroke="#222" stroke-width="0.7" />
<line x1="319.70" y1="78.60" x2="321.30" y2="78.60" stroke="#222" stroke-width="0.6" />
<text x="318.70" y="80.60" font-size="5.6" text-anchor="end" textLength="2.80" lengthAdjust="spacingAndGlyphs" >0</text>
<line x1="319.70" y1="63.88" x2="321.30" y2="63.88" stroke="#222" stroke-width="0.6" />
<text x="318.70" y="65.88" font-size="5.6" text-anchor="end" textLength="5.60" lengthAdjust="spacingAndGlyphs" >20</text>
<line x1="319.70" y1="49.15" x2="321.30" y2="49.15" stroke="#222" stroke-width="0.6" />
<text x="318.70" y="51.15" font-size="5.6" text-anchor="end" textLength="5.60" lengthAdjust="spacingAndGlyphs" >40</text>
<line x1="319.70" y1="34.42" x2="321.30" y2="34.42" stroke="#222" stroke-width="0.6" />
<text x="318.70" y="36.42" font-size="5.6" text-anchor="end" textLength="5.60" lengthAdjust="spacingAndGlyphs" >60</text>
<line x1="319.70" y1="19.70" x2="321.30" y2="19.70" stroke="#222" stroke-width="0.6" />
<text x="318.70" y="21.70" font-size="5.6" text-anchor="end" textLength="5.60" lengthAdjust="spacingAndGlyphs" >80</text>
<line x1="332.40" y1="78.60" x2="332.40" y2="80.20" stroke="#222" stroke-width="0.6" />
<text x="332.40" y="87.30" font-size="5.7" text-anchor="middle" textLength="11.00" lengthAdjust="spacingAndGlyphs" >20:1</text>
<line x1="354.80" y1="78.60" x2="354.80" y2="80.20" stroke="#222" stroke-width="0.6" />
<text x="354.80" y="87.30" font-size="5.7" text-anchor="middle" textLength="10.50" lengthAdjust="spacingAndGlyphs" >10:1</text>
<line x1="376.70" y1="78.60" x2="376.70" y2="80.20" stroke="#222" stroke-width="0.6" />
<text x="376.70" y="87.30" font-size="5.7" text-anchor="middle" textLength="8.00" lengthAdjust="spacingAndGlyphs" >5:1</text>
<line x1="399.00" y1="78.60" x2="399.00" y2="80.20" stroke="#222" stroke-width="0.6" />
<text x="399.00" y="87.30" font-size="5.7" text-anchor="middle" textLength="12.00" lengthAdjust="spacingAndGlyphs" >2.5:1</text>
<text x="364.40" y="94.80" font-size="5.8" text-anchor="middle" textLength="21.00" lengthAdjust="spacingAndGlyphs" >E:T ratio</text>
<polyline points="332.40,35.70 354.80,42.60 376.70,43.70 399.00,45.30" fill="none" stroke="#222" stroke-width="0.75"/>
<circle cx="332.40" cy="35.70" r="1.7" fill="#000"/>
<circle cx="354.80" cy="42.60" r="1.7" fill="#000"/>
<circle cx="376.70" cy="43.70" r="1.7" fill="#000"/>
<circle cx="399.00" cy="45.30" r="1.7" fill="#000"/>
<polyline points="332.40,28.90 354.80,33.90 376.70,43.40 399.00,53.20" fill="none" stroke="#222" stroke-width="0.75"/>
<polygon points="330.65,30.20 332.40,27.10 334.15,30.20" fill="#000"/>
<polygon points="353.05,35.20 354.80,32.10 356.55,35.20" fill="#000"/>
<polygon points="374.95,44.70 376.70,41.60 378.45,44.70" fill="#000"/>
<polygon points="397.25,54.50 399.00,51.40 400.75,54.50" fill="#000"/>
<polyline points="332.40,74.10 354.80,74.30 376.70,75.40 399.00,76.10" fill="none" stroke="#222" stroke-width="0.75"/>
<polygon points="330.65,72.80 332.40,75.90 334.15,72.80" fill="#000"/>
<polygon points="353.05,73.00 354.80,76.10 356.55,73.00" fill="#000"/>
<polygon points="374.95,74.10 376.70,77.20 378.45,74.10" fill="#000"/>
<polygon points="397.25,74.80 399.00,77.90 400.75,74.80" fill="#000"/>
<text x="429.00" y="15.00" font-size="6.0" textLength="71.60" lengthAdjust="spacingAndGlyphs" >Patient #3: ROR1-CAR clone</text>
<line x1="420.70" y1="19.70" x2="420.70" y2="79.15" stroke="#222" stroke-width="0.7" />
<line x1="420.35" y1="78.80" x2="503.50" y2="78.80" stroke="#222" stroke-width="0.7" />
<line x1="419.10" y1="78.80" x2="420.70" y2="78.80" stroke="#222" stroke-width="0.6" />
<text x="418.10" y="80.80" font-size="5.6" text-anchor="end" textLength="2.80" lengthAdjust="spacingAndGlyphs" >0</text>
<line x1="419.10" y1="64.02" x2="420.70" y2="64.02" stroke="#222" stroke-width="0.6" />
<text x="418.10" y="66.02" font-size="5.6" text-anchor="end" textLength="5.60" lengthAdjust="spacingAndGlyphs" >20</text>
<line x1="419.10" y1="49.25" x2="420.70" y2="49.25" stroke="#222" stroke-width="0.6" />
<text x="418.10" y="51.25" font-size="5.6" text-anchor="end" textLength="5.60" lengthAdjust="spacingAndGlyphs" >40</text>
<line x1="419.10" y1="34.48" x2="420.70" y2="34.48" stroke="#222" stroke-width="0.6" />
<text x="418.10" y="36.48" font-size="5.6" text-anchor="end" textLength="5.60" lengthAdjust="spacingAndGlyphs" >60</text>
<line x1="419.10" y1="19.70" x2="420.70" y2="19.70" stroke="#222" stroke-width="0.6" />
<text x="418.10" y="21.70" font-size="5.6" text-anchor="end" textLength="5.60" lengthAdjust="spacingAndGlyphs" >80</text>
<line x1="431.90" y1="78.80" x2="431.90" y2="80.40" stroke="#222" stroke-width="0.6" />
<text x="431.90" y="87.30" font-size="5.7" text-anchor="middle" textLength="11.00" lengthAdjust="spacingAndGlyphs" >20:1</text>
<line x1="454.20" y1="78.80" x2="454.20" y2="80.40" stroke="#222" stroke-width="0.6" />
<text x="454.20" y="87.30" font-size="5.7" text-anchor="middle" textLength="10.50" lengthAdjust="spacingAndGlyphs" >10:1</text>
<line x1="476.50" y1="78.80" x2="476.50" y2="80.40" stroke="#222" stroke-width="0.6" />
<text x="476.50" y="87.30" font-size="5.7" text-anchor="middle" textLength="8.00" lengthAdjust="spacingAndGlyphs" >5:1</text>
<line x1="498.50" y1="78.80" x2="498.50" y2="80.40" stroke="#222" stroke-width="0.6" />
<text x="498.50" y="87.30" font-size="5.7" text-anchor="middle" textLength="12.00" lengthAdjust="spacingAndGlyphs" >2.5:1</text>
<text x="463.60" y="94.80" font-size="5.8" text-anchor="middle" textLength="21.00" lengthAdjust="spacingAndGlyphs" >E:T ratio</text>
<polyline points="431.90,43.80 454.20,47.70 476.50,49.20 498.50,52.80" fill="none" stroke="#222" stroke-width="0.75"/>
<circle cx="431.90" cy="43.80" r="1.7" fill="#000"/>
<circle cx="454.20" cy="47.70" r="1.7" fill="#000"/>
<circle cx="476.50" cy="49.20" r="1.7" fill="#000"/>
<circle cx="498.50" cy="52.80" r="1.7" fill="#000"/>
<polyline points="431.90,36.40 454.20,44.60 476.50,48.50 498.50,50.80" fill="none" stroke="#222" stroke-width="0.75"/>
<polygon points="430.15,37.70 431.90,34.60 433.65,37.70" fill="#000"/>
<polygon points="452.45,45.90 454.20,42.80 455.95,45.90" fill="#000"/>
<polygon points="474.75,49.80 476.50,46.70 478.25,49.80" fill="#000"/>
<polygon points="496.75,52.10 498.50,49.00 500.25,52.10" fill="#000"/>
<polyline points="431.90,72.80 454.20,73.80 476.50,74.60 498.50,74.60" fill="none" stroke="#222" stroke-width="0.75"/>
<polygon points="430.15,71.50 431.90,74.60 433.65,71.50" fill="#000"/>
<polygon points="452.45,72.50 454.20,75.60 455.95,72.50" fill="#000"/>
<polygon points="474.75,73.30 476.50,76.40 478.25,73.30" fill="#000"/>
<polygon points="496.75,73.30 498.50,76.40 500.25,73.30" fill="#000"/>
<line x1="461.60" y1="22.40" x2="469.20" y2="22.40" stroke="#000" stroke-width="0.7" />
<circle cx="465.4" cy="22.4" r="1.7" fill="#000"/>
<text x="472.50" y="24.30" font-size="6.0" textLength="45.00" lengthAdjust="spacingAndGlyphs" >autologous B-CLL</text>
<line x1="461.60" y1="29.70" x2="469.20" y2="29.70" stroke="#000" stroke-width="0.7" />
<polygon points="463.65,31.00 465.40,27.90 467.15,31.00" fill="#000"/>
<text x="472.50" y="31.60" font-size="6.0" textLength="29.80" lengthAdjust="spacingAndGlyphs" >K562/ROR1</text>
<line x1="461.60" y1="37.00" x2="469.20" y2="37.00" stroke="#000" stroke-width="0.7" />
<polygon points="463.65,35.70 465.40,38.80 467.15,35.70" fill="#000"/>
<text x="472.50" y="38.90" font-size="6.0" textLength="13.10" lengthAdjust="spacingAndGlyphs" >K562</text>
<text x="2.70" y="161.30" font-size="11" font-weight="bold" style="stroke:#000;stroke-width:0.35px" fill="#000" >C</text>
<text x="39.70" y="161.40" font-size="6.0" textLength="72.30" lengthAdjust="spacingAndGlyphs" >Healthy donor ROR1-CAR CTL</text>
<line x1="30.20" y1="165.10" x2="30.20" y2="241.00" stroke="#000" stroke-width="0.6" />
<line x1="119.70" y1="165.10" x2="119.70" y2="241.00" stroke="#000" stroke-width="0.6" />
<line x1="30.20" y1="241.00" x2="119.70" y2="241.00" stroke="#000" stroke-width="0.6" />
<line x1="29.00" y1="165.10" x2="30.20" y2="165.10" stroke="#000" stroke-width="0.5" />
<line x1="119.70" y1="165.10" x2="120.90" y2="165.10" stroke="#000" stroke-width="0.5" />
<text x="28.70" y="166.70" font-size="4.6" text-anchor="end" textLength="13.00" lengthAdjust="spacingAndGlyphs" >15000</text>
<text x="121.20" y="166.70" font-size="4.6" textLength="10.40" lengthAdjust="spacingAndGlyphs" >1200</text>
<line x1="29.00" y1="177.75" x2="30.20" y2="177.75" stroke="#000" stroke-width="0.5" />
<line x1="119.70" y1="177.75" x2="120.90" y2="177.75" stroke="#000" stroke-width="0.5" />
<text x="28.70" y="179.35" font-size="4.6" text-anchor="end" textLength="13.00" lengthAdjust="spacingAndGlyphs" >12500</text>
<text x="121.20" y="179.35" font-size="4.6" textLength="10.40" lengthAdjust="spacingAndGlyphs" >1000</text>
<line x1="29.00" y1="190.40" x2="30.20" y2="190.40" stroke="#000" stroke-width="0.5" />
<line x1="119.70" y1="190.40" x2="120.90" y2="190.40" stroke="#000" stroke-width="0.5" />
<text x="28.70" y="192.00" font-size="4.6" text-anchor="end" textLength="13.00" lengthAdjust="spacingAndGlyphs" >10000</text>
<text x="121.20" y="192.00" font-size="4.6" textLength="7.80" lengthAdjust="spacingAndGlyphs" >800</text>
<line x1="29.00" y1="203.05" x2="30.20" y2="203.05" stroke="#000" stroke-width="0.5" />
<line x1="119.70" y1="203.05" x2="120.90" y2="203.05" stroke="#000" stroke-width="0.5" />
<text x="28.70" y="204.65" font-size="4.6" text-anchor="end" textLength="10.40" lengthAdjust="spacingAndGlyphs" >7500</text>
<text x="121.20" y="204.65" font-size="4.6" textLength="7.80" lengthAdjust="spacingAndGlyphs" >600</text>
<line x1="29.00" y1="215.70" x2="30.20" y2="215.70" stroke="#000" stroke-width="0.5" />
<line x1="119.70" y1="215.70" x2="120.90" y2="215.70" stroke="#000" stroke-width="0.5" />
<text x="28.70" y="217.30" font-size="4.6" text-anchor="end" textLength="10.40" lengthAdjust="spacingAndGlyphs" >5000</text>
<text x="121.20" y="217.30" font-size="4.6" textLength="7.80" lengthAdjust="spacingAndGlyphs" >400</text>
<line x1="29.00" y1="228.35" x2="30.20" y2="228.35" stroke="#000" stroke-width="0.5" />
<line x1="119.70" y1="228.35" x2="120.90" y2="228.35" stroke="#000" stroke-width="0.5" />
<text x="28.70" y="229.95" font-size="4.6" text-anchor="end" textLength="10.40" lengthAdjust="spacingAndGlyphs" >2500</text>
<text x="121.20" y="229.95" font-size="4.6" textLength="7.80" lengthAdjust="spacingAndGlyphs" >200</text>
<line x1="29.00" y1="241.00" x2="30.20" y2="241.00" stroke="#000" stroke-width="0.5" />
<line x1="119.70" y1="241.00" x2="120.90" y2="241.00" stroke="#000" stroke-width="0.5" />
<text x="28.70" y="242.60" font-size="4.6" text-anchor="end" textLength="2.60" lengthAdjust="spacingAndGlyphs" >0</text>
<text x="121.20" y="242.60" font-size="4.6" textLength="2.60" lengthAdjust="spacingAndGlyphs" >0</text>
<rect x="31.40" y="181.00" width="5.10" height="60.00" fill="#080808" stroke="#111" stroke-width="0.45" />
<rect x="38.20" y="218.40" width="4.40" height="22.60" fill="#7a7a7a" stroke="#111" stroke-width="0.45" />
<rect x="44.20" y="217.00" width="4.50" height="24.00" fill="#b0b0b0" stroke="#111" stroke-width="0.45" />
<rect x="76.80" y="234.80" width="4.70" height="6.20" fill="#080808" stroke="#111" stroke-width="0.45" />
<rect x="83.00" y="231.00" width="4.80" height="10.00" fill="#7a7a7a" stroke="#111" stroke-width="0.45" />
<rect x="89.20" y="234.80" width="4.60" height="6.20" fill="#b0b0b0" stroke="#111" stroke-width="0.45" />
<line x1="99.50" y1="240.50" x2="103.50" y2="240.50" stroke="#333" stroke-width="0.6" />
<line x1="105.50" y1="240.50" x2="109.50" y2="240.50" stroke="#333" stroke-width="0.6" />
<text x="11.30" y="201.60" font-size="4.0" text-anchor="middle" textLength="39.00" lengthAdjust="spacingAndGlyphs" transform="rotate(-90 11.30 201.60)" >Interferon-γ [pg/ml]</text>
<text x="137.90" y="202.00" font-size="3.9" text-anchor="middle" textLength="28.00" lengthAdjust="spacingAndGlyphs" transform="rotate(90 137.90 202.00)" >TNF-α [pg/ml]</text>
<text x="134.40" y="199.30" font-size="3.9" text-anchor="middle" textLength="19.40" lengthAdjust="spacingAndGlyphs" transform="rotate(90 134.40 199.30)" >IL-2 [pg/ml]</text>
<rect x="91.90" y="165.40" width="4.60" height="4.20" fill="#080808" stroke="#111" stroke-width="0.4" />
<text x="99.10" y="169.20" font-size="4.8" textLength="10.90" lengthAdjust="spacingAndGlyphs" >INF-γ</text>
<rect x="91.90" y="171.80" width="4.60" height="4.20" fill="#7a7a7a" stroke="#111" stroke-width="0.4" />
<text x="99.10" y="175.60" font-size="4.8" textLength="12.30" lengthAdjust="spacingAndGlyphs" >TNF-α</text>
<rect x="91.90" y="178.20" width="4.60" height="4.20" fill="#b0b0b0" stroke="#111" stroke-width="0.4" />
<text x="99.10" y="182.00" font-size="4.8" textLength="7.90" lengthAdjust="spacingAndGlyphs" >IL-2</text>
<text x="196.40" y="161.40" font-size="6.0" textLength="56.60" lengthAdjust="spacingAndGlyphs" >Patient ROR1-CAR CTL</text>
<line x1="176.30" y1="165.10" x2="176.30" y2="241.00" stroke="#000" stroke-width="0.6" />
<line x1="267.60" y1="165.10" x2="267.60" y2="241.00" stroke="#000" stroke-width="0.6" />
<line x1="176.30" y1="241.00" x2="267.60" y2="241.00" stroke="#000" stroke-width="0.6" />
<line x1="175.10" y1="165.10" x2="176.30" y2="165.10" stroke="#000" stroke-width="0.5" />
<line x1="267.60" y1="165.10" x2="268.80" y2="165.10" stroke="#000" stroke-width="0.5" />
<text x="174.80" y="166.70" font-size="4.6" text-anchor="end" textLength="13.00" lengthAdjust="spacingAndGlyphs" >15000</text>
<text x="269.10" y="166.70" font-size="4.6" textLength="10.40" lengthAdjust="spacingAndGlyphs" >1200</text>
<line x1="175.10" y1="177.75" x2="176.30" y2="177.75" stroke="#000" stroke-width="0.5" />
<line x1="267.60" y1="177.75" x2="268.80" y2="177.75" stroke="#000" stroke-width="0.5" />
<text x="174.80" y="179.35" font-size="4.6" text-anchor="end" textLength="13.00" lengthAdjust="spacingAndGlyphs" >12500</text>
<text x="269.10" y="179.35" font-size="4.6" textLength="10.40" lengthAdjust="spacingAndGlyphs" >1000</text>
<line x1="175.10" y1="190.40" x2="176.30" y2="190.40" stroke="#000" stroke-width="0.5" />
<line x1="267.60" y1="190.40" x2="268.80" y2="190.40" stroke="#000" stroke-width="0.5" />
<text x="174.80" y="192.00" font-size="4.6" text-anchor="end" textLength="13.00" lengthAdjust="spacingAndGlyphs" >10000</text>
<text x="269.10" y="192.00" font-size="4.6" textLength="7.80" lengthAdjust="spacingAndGlyphs" >800</text>
<line x1="175.10" y1="203.05" x2="176.30" y2="203.05" stroke="#000" stroke-width="0.5" />
<line x1="267.60" y1="203.05" x2="268.80" y2="203.05" stroke="#000" stroke-width="0.5" />
<text x="174.80" y="204.65" font-size="4.6" text-anchor="end" textLength="10.40" lengthAdjust="spacingAndGlyphs" >7500</text>
<text x="269.10" y="204.65" font-size="4.6" textLength="7.80" lengthAdjust="spacingAndGlyphs" >600</text>
<line x1="175.10" y1="215.70" x2="176.30" y2="215.70" stroke="#000" stroke-width="0.5" />
<line x1="267.60" y1="215.70" x2="268.80" y2="215.70" stroke="#000" stroke-width="0.5" />
<text x="174.80" y="217.30" font-size="4.6" text-anchor="end" textLength="10.40" lengthAdjust="spacingAndGlyphs" >5000</text>
<text x="269.10" y="217.30" font-size="4.6" textLength="7.80" lengthAdjust="spacingAndGlyphs" >400</text>
<line x1="175.10" y1="228.35" x2="176.30" y2="228.35" stroke="#000" stroke-width="0.5" />
<line x1="267.60" y1="228.35" x2="268.80" y2="228.35" stroke="#000" stroke-width="0.5" />
<text x="174.80" y="229.95" font-size="4.6" text-anchor="end" textLength="10.40" lengthAdjust="spacingAndGlyphs" >2500</text>
<text x="269.10" y="229.95" font-size="4.6" textLength="7.80" lengthAdjust="spacingAndGlyphs" >200</text>
<line x1="175.10" y1="241.00" x2="176.30" y2="241.00" stroke="#000" stroke-width="0.5" />
<line x1="267.60" y1="241.00" x2="268.80" y2="241.00" stroke="#000" stroke-width="0.5" />
<text x="174.80" y="242.60" font-size="4.6" text-anchor="end" textLength="2.60" lengthAdjust="spacingAndGlyphs" >0</text>
<text x="269.10" y="242.60" font-size="4.6" textLength="2.60" lengthAdjust="spacingAndGlyphs" >0</text>
<rect x="179.30" y="176.00" width="4.60" height="65.00" fill="#080808" stroke="#111" stroke-width="0.45" />
<rect x="185.60" y="177.00" width="4.50" height="64.00" fill="#7a7a7a" stroke="#111" stroke-width="0.45" />
<rect x="191.90" y="208.40" width="4.50" height="32.60" fill="#b0b0b0" stroke="#111" stroke-width="0.45" />
<rect x="224.90" y="235.10" width="3.90" height="5.90" fill="#080808" stroke="#111" stroke-width="0.45" />
<rect x="231.10" y="227.60" width="4.30" height="13.40" fill="#7a7a7a" stroke="#111" stroke-width="0.45" />
<rect x="237.30" y="235.80" width="4.30" height="5.20" fill="#b0b0b0" stroke="#111" stroke-width="0.45" />
<line x1="247.80" y1="240.50" x2="251.40" y2="240.50" stroke="#333" stroke-width="0.6" />
<line x1="254.00" y1="240.50" x2="258.00" y2="240.50" stroke="#333" stroke-width="0.6" />
<line x1="260.20" y1="240.50" x2="264.00" y2="240.50" stroke="#333" stroke-width="0.6" />
<text x="159.00" y="202.40" font-size="4.0" text-anchor="middle" textLength="39.60" lengthAdjust="spacingAndGlyphs" transform="rotate(-90 159.00 202.40)" >Interferon-γ [pg/ml]</text>
<text x="283.00" y="202.90" font-size="3.9" text-anchor="middle" textLength="29.20" lengthAdjust="spacingAndGlyphs" transform="rotate(90 283.00 202.90)" >TNF-α [pg/ml]</text>
<text x="279.80" y="200.10" font-size="3.9" text-anchor="middle" textLength="19.80" lengthAdjust="spacingAndGlyphs" transform="rotate(90 279.80 200.10)" >IL-2 [pg/ml]</text>
<rect x="240.40" y="165.40" width="4.60" height="4.20" fill="#080808" stroke="#111" stroke-width="0.4" />
<text x="247.60" y="169.20" font-size="4.8" textLength="10.90" lengthAdjust="spacingAndGlyphs" >INF-γ</text>
<rect x="240.40" y="171.80" width="4.60" height="4.20" fill="#7a7a7a" stroke="#111" stroke-width="0.4" />
<text x="247.60" y="175.60" font-size="4.8" textLength="12.30" lengthAdjust="spacingAndGlyphs" >TNF-α</text>
<rect x="240.40" y="178.20" width="4.60" height="4.20" fill="#b0b0b0" stroke="#111" stroke-width="0.4" />
<text x="247.60" y="182.00" font-size="4.8" textLength="7.90" lengthAdjust="spacingAndGlyphs" >IL-2</text>
<text x="35.20" y="242.80" font-size="3.9" text-anchor="end" textLength="11.40" lengthAdjust="spacingAndGlyphs" transform="rotate(-90 35.20 242.80)" >INF-γ</text>
<text x="40.80" y="242.80" font-size="3.9" text-anchor="end" textLength="13.10" lengthAdjust="spacingAndGlyphs" transform="rotate(-90 40.80 242.80)" >TNF-α</text>
<text x="47.00" y="242.80" font-size="3.9" text-anchor="end" textLength="8.40" lengthAdjust="spacingAndGlyphs" transform="rotate(-90 47.00 242.80)" >IL-2</text>
<text x="58.10" y="242.80" font-size="3.9" text-anchor="end" textLength="11.40" lengthAdjust="spacingAndGlyphs" transform="rotate(-90 58.10 242.80)" >INF-γ</text>
<text x="63.70" y="242.80" font-size="3.9" text-anchor="end" textLength="13.10" lengthAdjust="spacingAndGlyphs" transform="rotate(-90 63.70 242.80)" >TNF-α</text>
<text x="69.90" y="242.80" font-size="3.9" text-anchor="end" textLength="8.40" lengthAdjust="spacingAndGlyphs" transform="rotate(-90 69.90 242.80)" >IL-2</text>
<text x="80.80" y="242.80" font-size="3.9" text-anchor="end" textLength="11.40" lengthAdjust="spacingAndGlyphs" transform="rotate(-90 80.80 242.80)" >INF-γ</text>
<text x="86.40" y="242.80" font-size="3.9" text-anchor="end" textLength="13.10" lengthAdjust="spacingAndGlyphs" transform="rotate(-90 86.40 242.80)" >TNF-α</text>
<text x="92.60" y="242.80" font-size="3.9" text-anchor="end" textLength="8.40" lengthAdjust="spacingAndGlyphs" transform="rotate(-90 92.60 242.80)" >IL-2</text>
<text x="102.80" y="242.80" font-size="3.9" text-anchor="end" textLength="11.40" lengthAdjust="spacingAndGlyphs" transform="rotate(-90 102.80 242.80)" >INF-γ</text>
<text x="108.40" y="242.80" font-size="3.9" text-anchor="end" textLength="13.10" lengthAdjust="spacingAndGlyphs" transform="rotate(-90 108.40 242.80)" >TNF-α</text>
<text x="114.60" y="242.80" font-size="3.9" text-anchor="end" textLength="8.40" lengthAdjust="spacingAndGlyphs" transform="rotate(-90 114.60 242.80)" >IL-2</text>
<text x="182.80" y="242.80" font-size="3.9" text-anchor="end" textLength="11.40" lengthAdjust="spacingAndGlyphs" transform="rotate(-90 182.80 242.80)" >INF-γ</text>
<text x="188.40" y="242.80" font-size="3.9" text-anchor="end" textLength="13.10" lengthAdjust="spacingAndGlyphs" transform="rotate(-90 188.40 242.80)" >TNF-α</text>
<text x="194.60" y="242.80" font-size="3.9" text-anchor="end" textLength="8.40" lengthAdjust="spacingAndGlyphs" transform="rotate(-90 194.60 242.80)" >IL-2</text>
<text x="205.30" y="242.80" font-size="3.9" text-anchor="end" textLength="11.40" lengthAdjust="spacingAndGlyphs" transform="rotate(-90 205.30 242.80)" >INF-γ</text>
<text x="210.90" y="242.80" font-size="3.9" text-anchor="end" textLength="13.10" lengthAdjust="spacingAndGlyphs" transform="rotate(-90 210.90 242.80)" >TNF-α</text>
<text x="217.10" y="242.80" font-size="3.9" text-anchor="end" textLength="8.40" lengthAdjust="spacingAndGlyphs" transform="rotate(-90 217.10 242.80)" >IL-2</text>
<text x="228.00" y="242.80" font-size="3.9" text-anchor="end" textLength="11.40" lengthAdjust="spacingAndGlyphs" transform="rotate(-90 228.00 242.80)" >INF-γ</text>
<text x="233.60" y="242.80" font-size="3.9" text-anchor="end" textLength="13.10" lengthAdjust="spacingAndGlyphs" transform="rotate(-90 233.60 242.80)" >TNF-α</text>
<text x="239.80" y="242.80" font-size="3.9" text-anchor="end" textLength="8.40" lengthAdjust="spacingAndGlyphs" transform="rotate(-90 239.80 242.80)" >IL-2</text>
<text x="251.20" y="242.80" font-size="3.9" text-anchor="end" textLength="11.40" lengthAdjust="spacingAndGlyphs" transform="rotate(-90 251.20 242.80)" >INF-γ</text>
<text x="256.80" y="242.80" font-size="3.9" text-anchor="end" textLength="13.10" lengthAdjust="spacingAndGlyphs" transform="rotate(-90 256.80 242.80)" >TNF-α</text>
<text x="263.00" y="242.80" font-size="3.9" text-anchor="end" textLength="8.40" lengthAdjust="spacingAndGlyphs" transform="rotate(-90 263.00 242.80)" >IL-2</text>
<text x="27.50" y="263.00" font-size="5.0" textLength="24.00" lengthAdjust="spacingAndGlyphs" >K562/ROR1</text>
<text x="57.20" y="263.00" font-size="5.0" textLength="10.60" lengthAdjust="spacingAndGlyphs" >K562</text>
<text x="78.00" y="263.00" font-size="5.0" textLength="13.00" lengthAdjust="spacingAndGlyphs" >B-CLL</text>
<text x="99.50" y="263.00" font-size="5.0" textLength="16.50" lengthAdjust="spacingAndGlyphs" >EBV-LCL</text>
<text x="176.00" y="263.10" font-size="5.0" textLength="25.00" lengthAdjust="spacingAndGlyphs" >K562/ROR1</text>
<text x="204.50" y="263.10" font-size="5.0" textLength="10.50" lengthAdjust="spacingAndGlyphs" >K562</text>
<text x="226.20" y="263.10" font-size="5.0" textLength="13.40" lengthAdjust="spacingAndGlyphs" >B-CLL</text>
<text x="247.30" y="263.10" font-size="5.0" textLength="19.60" lengthAdjust="spacingAndGlyphs" >EBV-LCL</text>
<text x="309.60" y="142.30" font-size="10.5" font-weight="bold" style="stroke:#000;stroke-width:0.35px" fill="#000" >D</text>
<text x="328.90" y="140.10" font-size="6.0" textLength="56.50" lengthAdjust="spacingAndGlyphs" >Patient ROR1-CAR CTL</text>
<text x="328.00" y="207.00" font-size="6.0" textLength="71.50" lengthAdjust="spacingAndGlyphs" >Healthy donor ROR1-CAR CTL</text>
<rect x="329.00" y="142.90" width="54.50" height="52.30" fill="none" stroke="#666" stroke-width="0.6" />
<line x1="332.89" y1="194.40" x2="332.89" y2="195.20" stroke="#aaa" stroke-width="0.4" />
<line x1="336.79" y1="194.40" x2="336.79" y2="195.20" stroke="#aaa" stroke-width="0.4" />
<line x1="340.68" y1="194.40" x2="340.68" y2="195.20" stroke="#aaa" stroke-width="0.4" />
<line x1="344.57" y1="194.40" x2="344.57" y2="195.20" stroke="#aaa" stroke-width="0.4" />
<line x1="348.46" y1="194.40" x2="348.46" y2="195.20" stroke="#aaa" stroke-width="0.4" />
<line x1="352.36" y1="194.40" x2="352.36" y2="195.20" stroke="#aaa" stroke-width="0.4" />
<line x1="356.25" y1="194.40" x2="356.25" y2="195.20" stroke="#aaa" stroke-width="0.4" />
<line x1="360.14" y1="194.40" x2="360.14" y2="195.20" stroke="#aaa" stroke-width="0.4" />
<line x1="364.04" y1="194.40" x2="364.04" y2="195.20" stroke="#aaa" stroke-width="0.4" />
<line x1="367.93" y1="194.40" x2="367.93" y2="195.20" stroke="#aaa" stroke-width="0.4" />
<line x1="371.82" y1="194.40" x2="371.82" y2="195.20" stroke="#aaa" stroke-width="0.4" />
<line x1="375.71" y1="194.40" x2="375.71" y2="195.20" stroke="#aaa" stroke-width="0.4" />
<line x1="379.61" y1="194.40" x2="379.61" y2="195.20" stroke="#aaa" stroke-width="0.4" />
<rect x="389.10" y="142.90" width="56.50" height="52.30" fill="none" stroke="#666" stroke-width="0.6" />
<line x1="393.14" y1="194.40" x2="393.14" y2="195.20" stroke="#aaa" stroke-width="0.4" />
<line x1="397.17" y1="194.40" x2="397.17" y2="195.20" stroke="#aaa" stroke-width="0.4" />
<line x1="401.21" y1="194.40" x2="401.21" y2="195.20" stroke="#aaa" stroke-width="0.4" />
<line x1="405.24" y1="194.40" x2="405.24" y2="195.20" stroke="#aaa" stroke-width="0.4" />
<line x1="409.28" y1="194.40" x2="409.28" y2="195.20" stroke="#aaa" stroke-width="0.4" />
<line x1="413.31" y1="194.40" x2="413.31" y2="195.20" stroke="#aaa" stroke-width="0.4" />
<line x1="417.35" y1="194.40" x2="417.35" y2="195.20" stroke="#aaa" stroke-width="0.4" />
<line x1="421.39" y1="194.40" x2="421.39" y2="195.20" stroke="#aaa" stroke-width="0.4" />
<line x1="425.42" y1="194.40" x2="425.42" y2="195.20" stroke="#aaa" stroke-width="0.4" />
<line x1="429.46" y1="194.40" x2="429.46" y2="195.20" stroke="#aaa" stroke-width="0.4" />
<line x1="433.49" y1="194.40" x2="433.49" y2="195.20" stroke="#aaa" stroke-width="0.4" />
<line x1="437.53" y1="194.40" x2="437.53" y2="195.20" stroke="#aaa" stroke-width="0.4" />
<line x1="441.56" y1="194.40" x2="441.56" y2="195.20" stroke="#aaa" stroke-width="0.4" />
<rect x="452.30" y="142.90" width="55.00" height="52.30" fill="none" stroke="#666" stroke-width="0.6" />
<line x1="456.23" y1="194.40" x2="456.23" y2="195.20" stroke="#aaa" stroke-width="0.4" />
<line x1="460.16" y1="194.40" x2="460.16" y2="195.20" stroke="#aaa" stroke-width="0.4" />
<line x1="464.09" y1="194.40" x2="464.09" y2="195.20" stroke="#aaa" stroke-width="0.4" />
<line x1="468.01" y1="194.40" x2="468.01" y2="195.20" stroke="#aaa" stroke-width="0.4" />
<line x1="471.94" y1="194.40" x2="471.94" y2="195.20" stroke="#aaa" stroke-width="0.4" />
<line x1="475.87" y1="194.40" x2="475.87" y2="195.20" stroke="#aaa" stroke-width="0.4" />
<line x1="479.80" y1="194.40" x2="479.80" y2="195.20" stroke="#aaa" stroke-width="0.4" />
<line x1="483.73" y1="194.40" x2="483.73" y2="195.20" stroke="#aaa" stroke-width="0.4" />
<line x1="487.66" y1="194.40" x2="487.66" y2="195.20" stroke="#aaa" stroke-width="0.4" />
<line x1="491.59" y1="194.40" x2="491.59" y2="195.20" stroke="#aaa" stroke-width="0.4" />
<line x1="495.51" y1="194.40" x2="495.51" y2="195.20" stroke="#aaa" stroke-width="0.4" />
<line x1="499.44" y1="194.40" x2="499.44" y2="195.20" stroke="#aaa" stroke-width="0.4" />
<line x1="503.37" y1="194.40" x2="503.37" y2="195.20" stroke="#aaa" stroke-width="0.4" />
<rect x="329.00" y="209.30" width="54.50" height="50.00" fill="none" stroke="#666" stroke-width="0.6" />
<line x1="332.89" y1="258.50" x2="332.89" y2="259.30" stroke="#aaa" stroke-width="0.4" />
<line x1="336.79" y1="258.50" x2="336.79" y2="259.30" stroke="#aaa" stroke-width="0.4" />
<line x1="340.68" y1="258.50" x2="340.68" y2="259.30" stroke="#aaa" stroke-width="0.4" />
<line x1="344.57" y1="258.50" x2="344.57" y2="259.30" stroke="#aaa" stroke-width="0.4" />
<line x1="348.46" y1="258.50" x2="348.46" y2="259.30" stroke="#aaa" stroke-width="0.4" />
<line x1="352.36" y1="258.50" x2="352.36" y2="259.30" stroke="#aaa" stroke-width="0.4" />
<line x1="356.25" y1="258.50" x2="356.25" y2="259.30" stroke="#aaa" stroke-width="0.4" />
<line x1="360.14" y1="258.50" x2="360.14" y2="259.30" stroke="#aaa" stroke-width="0.4" />
<line x1="364.04" y1="258.50" x2="364.04" y2="259.30" stroke="#aaa" stroke-width="0.4" />
<line x1="367.93" y1="258.50" x2="367.93" y2="259.30" stroke="#aaa" stroke-width="0.4" />
<line x1="371.82" y1="258.50" x2="371.82" y2="259.30" stroke="#aaa" stroke-width="0.4" />
<line x1="375.71" y1="258.50" x2="375.71" y2="259.30" stroke="#aaa" stroke-width="0.4" />
<line x1="379.61" y1="258.50" x2="379.61" y2="259.30" stroke="#aaa" stroke-width="0.4" />
<rect x="389.10" y="209.30" width="56.50" height="50.00" fill="none" stroke="#666" stroke-width="0.6" />
<line x1="393.14" y1="258.50" x2="393.14" y2="259.30" stroke="#aaa" stroke-width="0.4" />
<line x1="397.17" y1="258.50" x2="397.17" y2="259.30" stroke="#aaa" stroke-width="0.4" />
<line x1="401.21" y1="258.50" x2="401.21" y2="259.30" stroke="#aaa" stroke-width="0.4" />
<line x1="405.24" y1="258.50" x2="405.24" y2="259.30" stroke="#aaa" stroke-width="0.4" />
<line x1="409.28" y1="258.50" x2="409.28" y2="259.30" stroke="#aaa" stroke-width="0.4" />
<line x1="413.31" y1="258.50" x2="413.31" y2="259.30" stroke="#aaa" stroke-width="0.4" />
<line x1="417.35" y1="258.50" x2="417.35" y2="259.30" stroke="#aaa" stroke-width="0.4" />
<line x1="421.39" y1="258.50" x2="421.39" y2="259.30" stroke="#aaa" stroke-width="0.4" />
<line x1="425.42" y1="258.50" x2="425.42" y2="259.30" stroke="#aaa" stroke-width="0.4" />
<line x1="429.46" y1="258.50" x2="429.46" y2="259.30" stroke="#aaa" stroke-width="0.4" />
<line x1="433.49" y1="258.50" x2="433.49" y2="259.30" stroke="#aaa" stroke-width="0.4" />
<line x1="437.53" y1="258.50" x2="437.53" y2="259.30" stroke="#aaa" stroke-width="0.4" />
<line x1="441.56" y1="258.50" x2="441.56" y2="259.30" stroke="#aaa" stroke-width="0.4" />
<rect x="452.30" y="209.30" width="55.00" height="50.00" fill="none" stroke="#666" stroke-width="0.6" />
<line x1="456.23" y1="258.50" x2="456.23" y2="259.30" stroke="#aaa" stroke-width="0.4" />
<line x1="460.16" y1="258.50" x2="460.16" y2="259.30" stroke="#aaa" stroke-width="0.4" />
<line x1="464.09" y1="258.50" x2="464.09" y2="259.30" stroke="#aaa" stroke-width="0.4" />
<line x1="468.01" y1="258.50" x2="468.01" y2="259.30" stroke="#aaa" stroke-width="0.4" />
<line x1="471.94" y1="258.50" x2="471.94" y2="259.30" stroke="#aaa" stroke-width="0.4" />
<line x1="475.87" y1="258.50" x2="475.87" y2="259.30" stroke="#aaa" stroke-width="0.4" />
<line x1="479.80" y1="258.50" x2="479.80" y2="259.30" stroke="#aaa" stroke-width="0.4" />
<line x1="483.73" y1="258.50" x2="483.73" y2="259.30" stroke="#aaa" stroke-width="0.4" />
<line x1="487.66" y1="258.50" x2="487.66" y2="259.30" stroke="#aaa" stroke-width="0.4" />
<line x1="491.59" y1="258.50" x2="491.59" y2="259.30" stroke="#aaa" stroke-width="0.4" />
<line x1="495.51" y1="258.50" x2="495.51" y2="259.30" stroke="#aaa" stroke-width="0.4" />
<line x1="499.44" y1="258.50" x2="499.44" y2="259.30" stroke="#aaa" stroke-width="0.4" />
<line x1="503.37" y1="258.50" x2="503.37" y2="259.30" stroke="#aaa" stroke-width="0.4" />
<line x1="328.00" y1="263.80" x2="501.80" y2="263.80" stroke="#111" stroke-width="1.3" />
<polygon points="501.30,261.30 507.30,263.80 501.30,266.30" fill="#111"/>
<text x="500.80" y="273.90" font-size="5.8" text-anchor="end" textLength="14.80" lengthAdjust="spacingAndGlyphs" >CFSE</text>
<path d="M360.90,194.50 L361.60,183.50 L362.30,169.70 L363.00,147.50 L363.70,158.00 L364.40,165.50 L365.20,157.00 L366.00,146.20 L366.90,155.00 L367.80,160.00 L368.90,157.00 L369.90,154.50 L370.60,162.80 L371.30,176.60 L372.70,186.30 L374.80,193.20 L376.00,194.50 L376.00,194.80 L360.90,194.80 Z" fill="#b2b2b2" stroke="#777" stroke-width="0.45" />
<path d="M329.40,194.80 L354.70,194.50 L356.80,189.10 L358.10,182.10 L358.80,169.70 L359.50,160.00 L360.20,159.70 L360.90,162.80 L361.60,165.50 L362.30,158.60 L363.00,146.80 L363.70,154.50 L364.40,169.70 L365.10,162.80 L366.00,146.20 L366.90,158.60 L367.40,175.20 L368.50,183.50 L370.60,189.80 L372.70,192.90 L374.80,194.50 L383.10,194.80" fill="none" stroke="#111" stroke-width="0.6" stroke-linejoin="round"/>
<line x1="329.00" y1="180.40" x2="365.70" y2="180.40" stroke="#333" stroke-width="0.6" />
<line x1="365.70" y1="179.20" x2="365.70" y2="181.60" stroke="#333" stroke-width="0.5" />
<text x="340.40" y="179.20" font-size="5.8" textLength="14.60" lengthAdjust="spacingAndGlyphs" >78.9%</text>
<text x="331.60" y="149.70" font-size="5.8" textLength="27.50" lengthAdjust="spacingAndGlyphs" >K562/ROR1</text>
<path d="M420.40,194.50 L422.00,186.00 L424.00,178.00 L425.50,172.50 L426.80,163.00 L428.00,147.50 L429.00,161.00 L429.80,166.00 L430.80,156.00 L431.50,151.50 L432.10,158.00 L432.80,174.00 L433.50,184.00 L435.00,190.00 L437.00,194.50 L437.00,194.80 L420.40,194.80 Z" fill="#b2b2b2" stroke="#777" stroke-width="0.45" />
<path d="M389.50,194.80 L416.20,194.50 L419.70,189.10 L421.10,182.10 L423.10,179.40 L424.50,173.80 L425.50,171.80 L426.60,162.80 L428.00,146.80 L429.00,160.00 L429.80,165.50 L430.80,155.80 L431.50,151.00 L432.10,157.20 L432.80,173.80 L433.50,183.50 L434.90,189.80 L437.00,194.20 L445.20,194.80" fill="none" stroke="#111" stroke-width="0.6" stroke-linejoin="round"/>
<line x1="389.10" y1="180.40" x2="422.20" y2="180.40" stroke="#333" stroke-width="0.6" />
<line x1="422.20" y1="179.20" x2="422.20" y2="181.60" stroke="#333" stroke-width="0.5" />
<text x="400.50" y="179.20" font-size="5.8" textLength="15.50" lengthAdjust="spacingAndGlyphs" >28.7%</text>
<text x="393.20" y="149.40" font-size="5.8" textLength="24.40" lengthAdjust="spacingAndGlyphs" >autologous</text>
<text x="398.00" y="156.20" font-size="5.8" textLength="14.70" lengthAdjust="spacingAndGlyphs" >B-CLL</text>
<path d="M484.50,194.50 L486.00,188.00 L487.50,181.00 L488.60,170.00 L490.00,150.80 L490.70,147.50 L491.40,156.00 L492.10,169.00 L492.80,159.00 L493.90,150.20 L494.60,157.50 L495.50,172.40 L496.60,182.10 L497.60,187.70 L499.00,191.80 L501.00,194.50 L501.00,194.80 L484.50,194.80 Z" fill="#b2b2b2" stroke="#777" stroke-width="0.45" />
<path d="M452.70,194.80 L481.00,194.50 L483.80,190.40 L485.80,186.30 L487.00,182.10 L487.90,175.20 L488.90,165.50 L490.00,150.30 L490.70,146.80 L491.40,155.80 L492.10,169.70 L492.80,158.60 L493.90,149.60 L494.60,157.20 L495.50,172.40 L496.60,182.10 L497.60,187.70 L499.00,191.80 L501.00,194.50 L506.90,194.80" fill="none" stroke="#111" stroke-width="0.6" stroke-linejoin="round"/>
<line x1="452.30" y1="180.30" x2="487.50" y2="180.30" stroke="#333" stroke-width="0.6" />
<line x1="487.50" y1="179.10" x2="487.50" y2="181.50" stroke="#333" stroke-width="0.5" />
<text x="463.70" y="179.10" font-size="5.8" textLength="13.60" lengthAdjust="spacingAndGlyphs" >18.7%</text>
<text x="457.00" y="150.00" font-size="5.8" textLength="11.50" lengthAdjust="spacingAndGlyphs" >K562</text>
<path d="M360.20,258.90 L362.30,252.70 L364.40,243.00 L365.80,234.70 L366.50,227.80 L367.40,229.10 L368.80,218.10 L369.90,226.40 L371.30,220.10 L372.40,229.10 L373.40,240.20 L374.80,248.50 L376.80,255.40 L378.90,258.90 L378.90,258.90 L360.20,258.90 Z" fill="#b2b2b2" stroke="#777" stroke-width="0.45" />
<path d="M329.40,258.90 L353.30,258.90 L355.40,254.10 L356.80,248.50 L358.10,243.70 L358.80,241.60 L359.50,231.90 L360.20,225.00 L360.90,222.90 L361.60,230.50 L362.30,234.70 L363.30,220.80 L364.10,212.50 L365.10,225.00 L365.80,230.50 L366.50,219.50 L367.10,211.80 L367.80,223.60 L368.80,237.40 L369.90,245.80 L372.00,252.70 L374.80,258.60 L383.10,258.90" fill="none" stroke="#111" stroke-width="0.6" stroke-linejoin="round"/>
<line x1="329.00" y1="243.30" x2="360.00" y2="243.30" stroke="#333" stroke-width="0.6" />
<line x1="360.00" y1="242.10" x2="360.00" y2="244.50" stroke="#333" stroke-width="0.5" />
<text x="340.00" y="242.10" font-size="5.8" textLength="13.80" lengthAdjust="spacingAndGlyphs" >59.0%</text>
<text x="331.40" y="215.30" font-size="5.8" textLength="27.50" lengthAdjust="spacingAndGlyphs" >K562/ROR1</text>
<path d="M421.80,258.90 L423.80,248.50 L425.20,240.20 L426.30,223.60 L427.30,230.50 L428.40,224.00 L429.40,213.20 L430.30,223.00 L430.80,226.40 L432.10,220.80 L433.30,231.20 L434.20,243.00 L436.30,252.70 L439.10,258.90 L439.10,258.90 L421.80,258.90 Z" fill="#b2b2b2" stroke="#777" stroke-width="0.45" />
<path d="M389.50,258.90 L416.90,258.90 L419.70,255.40 L421.80,247.10 L422.50,243.00 L423.80,237.40 L425.00,227.80 L425.90,219.50 L426.90,230.50 L428.00,229.10 L429.40,212.50 L430.50,226.40 L431.50,225.00 L432.10,220.10 L433.10,230.50 L434.20,243.00 L435.60,251.30 L437.70,256.80 L439.80,258.90 L445.20,258.90" fill="none" stroke="#111" stroke-width="0.6" stroke-linejoin="round"/>
<line x1="389.10" y1="242.60" x2="423.00" y2="242.60" stroke="#333" stroke-width="0.6" />
<line x1="423.00" y1="241.40" x2="423.00" y2="243.80" stroke="#333" stroke-width="0.5" />
<text x="400.20" y="241.40" font-size="5.8" textLength="14.30" lengthAdjust="spacingAndGlyphs" >33.2%</text>
<text x="392.90" y="215.60" font-size="5.8" textLength="14.70" lengthAdjust="spacingAndGlyphs" >B-CLL</text>
<path d="M485.80,258.90 L487.00,250.00 L488.30,236.00 L489.30,230.50 L490.30,232.50 L491.10,221.50 L492.10,213.00 L493.00,228.00 L494.10,231.00 L495.30,219.50 L496.20,228.00 L496.90,240.20 L498.30,248.50 L499.70,254.80 L501.80,258.90 L501.80,258.90 L485.80,258.90 Z" fill="#b2b2b2" stroke="#777" stroke-width="0.45" />
<path d="M452.70,258.90 L483.80,258.90 L485.10,254.10 L486.50,248.50 L487.50,243.00 L488.30,234.70 L489.30,229.80 L490.30,231.90 L491.10,220.80 L492.10,212.30 L493.00,227.80 L494.10,230.50 L495.30,218.80 L496.20,227.80 L496.90,240.20 L498.30,248.50 L499.70,254.80 L501.80,258.90 L506.90,258.90" fill="none" stroke="#111" stroke-width="0.6" stroke-linejoin="round"/>
<line x1="452.30" y1="242.40" x2="488.60" y2="242.40" stroke="#333" stroke-width="0.6" />
<line x1="488.60" y1="241.20" x2="488.60" y2="243.60" stroke="#333" stroke-width="0.5" />
<text x="462.00" y="241.20" font-size="5.8" textLength="15.00" lengthAdjust="spacingAndGlyphs" >22.7%</text>
<text x="455.90" y="215.60" font-size="5.8" textLength="11.50" lengthAdjust="spacingAndGlyphs" >K562</text>
<text x="2.40" y="286.50" font-size="10.5" font-weight="bold" style="stroke:#000;stroke-width:0.35px" fill="#000" >E</text>
<text x="64.10" y="291.40" font-size="5.8" text-anchor="middle" textLength="47.80" lengthAdjust="spacingAndGlyphs" >CD5+/CD19+ B-CLL</text>
<text x="63.30" y="298.90" font-size="5.8" text-anchor="middle" textLength="34.50" lengthAdjust="spacingAndGlyphs" >Hoechst 33342</text>
<rect x="32.70" y="304.00" width="61.60" height="59.50" fill="none" stroke="#666" stroke-width="0.6" />
<line x1="37.10" y1="362.70" x2="37.10" y2="363.50" stroke="#999" stroke-width="0.4" />
<line x1="41.50" y1="362.70" x2="41.50" y2="363.50" stroke="#999" stroke-width="0.4" />
<line x1="45.90" y1="362.70" x2="45.90" y2="363.50" stroke="#999" stroke-width="0.4" />
<line x1="50.30" y1="362.70" x2="50.30" y2="363.50" stroke="#999" stroke-width="0.4" />
<line x1="54.70" y1="362.70" x2="54.70" y2="363.50" stroke="#999" stroke-width="0.4" />
<line x1="59.10" y1="362.70" x2="59.10" y2="363.50" stroke="#999" stroke-width="0.4" />
<line x1="63.50" y1="362.70" x2="63.50" y2="363.50" stroke="#999" stroke-width="0.4" />
<line x1="67.90" y1="362.70" x2="67.90" y2="363.50" stroke="#999" stroke-width="0.4" />
<line x1="72.30" y1="362.70" x2="72.30" y2="363.50" stroke="#999" stroke-width="0.4" />
<line x1="76.70" y1="362.70" x2="76.70" y2="363.50" stroke="#999" stroke-width="0.4" />
<line x1="81.10" y1="362.70" x2="81.10" y2="363.50" stroke="#999" stroke-width="0.4" />
<line x1="85.50" y1="362.70" x2="85.50" y2="363.50" stroke="#999" stroke-width="0.4" />
<line x1="89.90" y1="362.70" x2="89.90" y2="363.50" stroke="#999" stroke-width="0.4" />
<line x1="32.70" y1="308.96" x2="33.50" y2="308.96" stroke="#999" stroke-width="0.4" />
<line x1="32.70" y1="313.92" x2="33.50" y2="313.92" stroke="#999" stroke-width="0.4" />
<line x1="32.70" y1="318.88" x2="33.50" y2="318.88" stroke="#999" stroke-width="0.4" />
<line x1="32.70" y1="323.83" x2="33.50" y2="323.83" stroke="#999" stroke-width="0.4" />
<line x1="32.70" y1="328.79" x2="33.50" y2="328.79" stroke="#999" stroke-width="0.4" />
<line x1="32.70" y1="333.75" x2="33.50" y2="333.75" stroke="#999" stroke-width="0.4" />
<line x1="32.70" y1="338.71" x2="33.50" y2="338.71" stroke="#999" stroke-width="0.4" />
<line x1="32.70" y1="343.67" x2="33.50" y2="343.67" stroke="#999" stroke-width="0.4" />
<line x1="32.70" y1="348.62" x2="33.50" y2="348.62" stroke="#999" stroke-width="0.4" />
<line x1="32.70" y1="353.58" x2="33.50" y2="353.58" stroke="#999" stroke-width="0.4" />
<line x1="32.70" y1="358.54" x2="33.50" y2="358.54" stroke="#999" stroke-width="0.4" />
<line x1="27.20" y1="363.00" x2="27.20" y2="308.20" stroke="#111" stroke-width="1.1" />
<polygon points="24.70,308.70 27.20,303.20 29.70,308.70" fill="#111"/>
<line x1="32.70" y1="368.50" x2="90.10" y2="368.50" stroke="#111" stroke-width="1.1" />
<polygon points="89.60,366.00 95.10,368.50 89.60,371.00" fill="#111"/>
<text x="36.90" y="333.20" font-size="5.8" textLength="13.90" lengthAdjust="spacingAndGlyphs" >0.02%</text>
<path d="M57.70,332.20 C57.37,331.65 58.95,330.90 60.00,330.10 C61.05,329.30 62.33,328.13 64.00,327.40 C65.67,326.67 67.67,326.10 70.00,325.70 C72.33,325.30 75.25,325.25 78.00,325.00 C80.75,324.75 85.12,323.98 86.50,324.20 C87.88,324.42 86.88,325.28 86.30,326.30 C85.72,327.32 84.38,328.88 83.00,330.30 C81.62,331.72 79.83,333.75 78.00,334.80 C76.17,335.85 73.72,336.50 72.00,336.60 C70.28,336.70 69.37,335.93 67.70,335.40 C66.03,334.87 63.67,333.93 62.00,333.40 C60.33,332.87 58.03,332.75 57.70,332.20 Z" fill="#555" opacity="0.5" filter="url(#b2)"/>
<path d="M57.70,331.40 C57.37,330.85 58.95,330.10 60.00,329.30 C61.05,328.50 62.33,327.33 64.00,326.60 C65.67,325.87 67.67,325.30 70.00,324.90 C72.33,324.50 75.25,324.45 78.00,324.20 C80.75,323.95 85.12,323.18 86.50,323.40 C87.88,323.62 86.88,324.48 86.30,325.50 C85.72,326.52 84.38,328.08 83.00,329.50 C81.62,330.92 79.83,332.95 78.00,334.00 C76.17,335.05 73.72,335.70 72.00,335.80 C70.28,335.90 69.37,335.13 67.70,334.60 C66.03,334.07 63.67,333.13 62.00,332.60 C60.33,332.07 58.03,331.95 57.70,331.40 Z" fill="#111" opacity="1.0" filter="url(#b05)"/>
<ellipse cx="76.5" cy="329.2" rx="7.0" ry="2.8" transform="rotate(-10 76.5 329.2)" fill="#666" filter="url(#b1)"/>
<ellipse cx="78.0" cy="328.8" rx="3.2" ry="1.3" transform="rotate(-10 78.0 328.8)" fill="#bbb" filter="url(#b05)"/>
<ellipse cx="71" cy="336.2" rx="6" ry="1.3" fill="#333" opacity="0.55" filter="url(#b07)"/>
<ellipse cx="71" cy="337.5" rx="6" ry="1.4" fill="#bbb" opacity="0.7" filter="url(#b1)"/>
<path d="M35.30,358.40 C35.25,357.30 36.40,354.78 37.20,353.00 C38.00,351.22 38.57,350.05 40.10,347.70 C41.63,345.35 44.42,341.32 46.40,338.90 C48.38,336.48 50.02,334.77 52.00,333.20 C53.98,331.63 56.83,329.93 58.30,329.50 C59.77,329.07 60.02,330.08 60.80,330.60 C61.58,331.12 63.63,331.53 63.00,332.60 C62.37,333.67 58.93,335.22 57.00,337.00 C55.07,338.78 53.38,340.68 51.40,343.30 C49.42,345.92 46.88,350.05 45.10,352.70 C43.32,355.35 41.97,358.05 40.70,359.20 C39.43,360.35 38.40,359.73 37.50,359.60 C36.60,359.47 35.35,359.50 35.30,358.40 Z" fill="#fff" stroke="#444" stroke-width="0.55" />
<text x="24.40" y="314.00" font-size="5.8" text-anchor="end" textLength="19.00" lengthAdjust="spacingAndGlyphs" >Hoechst</text>
<text x="15.10" y="319.80" font-size="5.8" text-anchor="middle" textLength="10.00" lengthAdjust="spacingAndGlyphs" >blue</text>
<text x="62.00" y="378.00" font-size="5.8" textLength="28.00" lengthAdjust="spacingAndGlyphs" >Hoechst red</text>
<rect x="218.00" y="303.80" width="59.40" height="59.80" fill="none" stroke="#666" stroke-width="0.6" />
<line x1="222.24" y1="362.80" x2="222.24" y2="363.60" stroke="#999" stroke-width="0.4" />
<line x1="226.49" y1="362.80" x2="226.49" y2="363.60" stroke="#999" stroke-width="0.4" />
<line x1="230.73" y1="362.80" x2="230.73" y2="363.60" stroke="#999" stroke-width="0.4" />
<line x1="234.97" y1="362.80" x2="234.97" y2="363.60" stroke="#999" stroke-width="0.4" />
<line x1="239.21" y1="362.80" x2="239.21" y2="363.60" stroke="#999" stroke-width="0.4" />
<line x1="243.46" y1="362.80" x2="243.46" y2="363.60" stroke="#999" stroke-width="0.4" />
<line x1="247.70" y1="362.80" x2="247.70" y2="363.60" stroke="#999" stroke-width="0.4" />
<line x1="251.94" y1="362.80" x2="251.94" y2="363.60" stroke="#999" stroke-width="0.4" />
<line x1="256.19" y1="362.80" x2="256.19" y2="363.60" stroke="#999" stroke-width="0.4" />
<line x1="260.43" y1="362.80" x2="260.43" y2="363.60" stroke="#999" stroke-width="0.4" />
<line x1="264.67" y1="362.80" x2="264.67" y2="363.60" stroke="#999" stroke-width="0.4" />
<line x1="268.91" y1="362.80" x2="268.91" y2="363.60" stroke="#999" stroke-width="0.4" />
<line x1="273.16" y1="362.80" x2="273.16" y2="363.60" stroke="#999" stroke-width="0.4" />
<line x1="218.00" y1="308.78" x2="218.80" y2="308.78" stroke="#999" stroke-width="0.4" />
<line x1="218.00" y1="313.77" x2="218.80" y2="313.77" stroke="#999" stroke-width="0.4" />
<line x1="218.00" y1="318.75" x2="218.80" y2="318.75" stroke="#999" stroke-width="0.4" />
<line x1="218.00" y1="323.73" x2="218.80" y2="323.73" stroke="#999" stroke-width="0.4" />
<line x1="218.00" y1="328.72" x2="218.80" y2="328.72" stroke="#999" stroke-width="0.4" />
<line x1="218.00" y1="333.70" x2="218.80" y2="333.70" stroke="#999" stroke-width="0.4" />
<line x1="218.00" y1="338.68" x2="218.80" y2="338.68" stroke="#999" stroke-width="0.4" />
<line x1="218.00" y1="343.67" x2="218.80" y2="343.67" stroke="#999" stroke-width="0.4" />
<line x1="218.00" y1="348.65" x2="218.80" y2="348.65" stroke="#999" stroke-width="0.4" />
<line x1="218.00" y1="353.63" x2="218.80" y2="353.63" stroke="#999" stroke-width="0.4" />
<line x1="218.00" y1="358.62" x2="218.80" y2="358.62" stroke="#999" stroke-width="0.4" />
<line x1="213.20" y1="363.10" x2="213.20" y2="308.00" stroke="#111" stroke-width="1.1" />
<polygon points="210.70,308.50 213.20,303.00 215.70,308.50" fill="#111"/>
<line x1="218.00" y1="368.60" x2="273.20" y2="368.60" stroke="#111" stroke-width="1.1" />
<polygon points="272.70,366.10 278.20,368.60 272.70,371.10" fill="#111"/>
<text x="221.30" y="331.40" font-size="5.8" textLength="17.30" lengthAdjust="spacingAndGlyphs" >0.001%</text>
<path d="M245.80,330.90 C245.80,330.15 247.55,329.43 248.50,328.80 C249.45,328.17 249.92,327.50 251.50,327.10 C253.08,326.70 255.70,326.58 258.00,326.40 C260.30,326.22 262.70,326.13 265.30,326.00 C267.90,325.87 272.27,325.30 273.60,325.60 C274.93,325.90 274.23,326.35 273.30,327.80 C272.37,329.25 269.88,332.32 268.00,334.30 C266.12,336.28 263.70,338.70 262.00,339.70 C260.30,340.70 259.35,340.82 257.80,340.30 C256.25,339.78 254.25,337.77 252.70,336.60 C251.15,335.43 249.65,334.25 248.50,333.30 C247.35,332.35 245.80,331.65 245.80,330.90 Z" fill="#555" opacity="0.5" filter="url(#b2)"/>
<path d="M245.80,330.10 C245.80,329.35 247.55,328.63 248.50,328.00 C249.45,327.37 249.92,326.70 251.50,326.30 C253.08,325.90 255.70,325.78 258.00,325.60 C260.30,325.42 262.70,325.33 265.30,325.20 C267.90,325.07 272.27,324.50 273.60,324.80 C274.93,325.10 274.23,325.55 273.30,327.00 C272.37,328.45 269.88,331.52 268.00,333.50 C266.12,335.48 263.70,337.90 262.00,338.90 C260.30,339.90 259.35,340.02 257.80,339.50 C256.25,338.98 254.25,336.97 252.70,335.80 C251.15,334.63 249.65,333.45 248.50,332.50 C247.35,331.55 245.80,330.85 245.80,330.10 Z" fill="#111" opacity="1.0" filter="url(#b05)"/>
<ellipse cx="261.0" cy="330.8" rx="6.8" ry="2.9" transform="rotate(-10 261.0 330.8)" fill="#666" filter="url(#b1)"/>
<ellipse cx="261.8" cy="330.2" rx="3.0" ry="1.4" transform="rotate(-10 261.8 330.2)" fill="#bbb" filter="url(#b05)"/>
<ellipse cx="259" cy="338.5" rx="4.5" ry="1.3" fill="#333" opacity="0.55" filter="url(#b07)"/>
<path d="M220.30,358.40 C220.25,357.30 221.40,354.78 222.20,353.00 C223.00,351.22 223.57,350.05 225.10,347.70 C226.63,345.35 229.42,341.32 231.40,338.90 C233.38,336.48 235.02,334.77 237.00,333.20 C238.98,331.63 241.83,329.93 243.30,329.50 C244.77,329.07 245.02,330.08 245.80,330.60 C246.58,331.12 248.63,331.53 248.00,332.60 C247.37,333.67 243.93,335.22 242.00,337.00 C240.07,338.78 238.38,340.68 236.40,343.30 C234.42,345.92 231.88,350.05 230.10,352.70 C228.32,355.35 226.97,358.05 225.70,359.20 C224.43,360.35 223.40,359.73 222.50,359.60 C221.60,359.47 220.35,359.50 220.30,358.40 Z" fill="#fff" stroke="#444" stroke-width="0.55" />
<text x="217.10" y="298.40" font-size="5.8" textLength="62.30" lengthAdjust="spacingAndGlyphs" >Hoechst 33342 + verapamil</text>
<text x="210.60" y="312.70" font-size="5.8" text-anchor="end" textLength="18.70" lengthAdjust="spacingAndGlyphs" >Hoechst</text>
<text x="201.40" y="319.50" font-size="5.8" text-anchor="middle" textLength="10.00" lengthAdjust="spacingAndGlyphs" >blue</text>
<text x="247.70" y="377.40" font-size="5.8" textLength="27.90" lengthAdjust="spacingAndGlyphs" >Hoechst red</text>
<line x1="99.40" y1="315.80" x2="117.55" y2="311.20" stroke="#111" stroke-width="0.9" />
<polygon points="117.90,313.80 122.30,310.00 116.62,308.76" fill="#111"/>
<line x1="99.40" y1="345.20" x2="116.72" y2="351.85" stroke="#111" stroke-width="0.9" />
<polygon points="115.51,354.17 121.30,353.60 117.38,349.31" fill="#111"/>
<text x="99.90" y="308.20" font-size="5.8" textLength="17.10" lengthAdjust="spacingAndGlyphs" >non-SP</text>
<text x="105.00" y="358.40" font-size="5.8" textLength="6.70" lengthAdjust="spacingAndGlyphs" >SP</text>
<rect x="133.10" y="277.00" width="50.30" height="50.40" fill="none" stroke="#666" stroke-width="0.6" />
<rect x="133.10" y="331.70" width="50.30" height="50.80" fill="none" stroke="#666" stroke-width="0.6" />
<line x1="137.29" y1="326.60" x2="137.29" y2="327.40" stroke="#aaa" stroke-width="0.4" />
<line x1="141.48" y1="326.60" x2="141.48" y2="327.40" stroke="#aaa" stroke-width="0.4" />
<line x1="145.67" y1="326.60" x2="145.67" y2="327.40" stroke="#aaa" stroke-width="0.4" />
<line x1="149.87" y1="326.60" x2="149.87" y2="327.40" stroke="#aaa" stroke-width="0.4" />
<line x1="154.06" y1="326.60" x2="154.06" y2="327.40" stroke="#aaa" stroke-width="0.4" />
<line x1="158.25" y1="326.60" x2="158.25" y2="327.40" stroke="#aaa" stroke-width="0.4" />
<line x1="162.44" y1="326.60" x2="162.44" y2="327.40" stroke="#aaa" stroke-width="0.4" />
<line x1="166.63" y1="326.60" x2="166.63" y2="327.40" stroke="#aaa" stroke-width="0.4" />
<line x1="170.82" y1="326.60" x2="170.82" y2="327.40" stroke="#aaa" stroke-width="0.4" />
<line x1="175.02" y1="326.60" x2="175.02" y2="327.40" stroke="#aaa" stroke-width="0.4" />
<line x1="179.21" y1="326.60" x2="179.21" y2="327.40" stroke="#aaa" stroke-width="0.4" />
<line x1="133.10" y1="282.04" x2="133.90" y2="282.04" stroke="#aaa" stroke-width="0.4" />
<line x1="133.10" y1="287.08" x2="133.90" y2="287.08" stroke="#aaa" stroke-width="0.4" />
<line x1="133.10" y1="292.12" x2="133.90" y2="292.12" stroke="#aaa" stroke-width="0.4" />
<line x1="133.10" y1="297.16" x2="133.90" y2="297.16" stroke="#aaa" stroke-width="0.4" />
<line x1="133.10" y1="302.20" x2="133.90" y2="302.20" stroke="#aaa" stroke-width="0.4" />
<line x1="133.10" y1="307.24" x2="133.90" y2="307.24" stroke="#aaa" stroke-width="0.4" />
<line x1="133.10" y1="312.28" x2="133.90" y2="312.28" stroke="#aaa" stroke-width="0.4" />
<line x1="133.10" y1="317.32" x2="133.90" y2="317.32" stroke="#aaa" stroke-width="0.4" />
<line x1="133.10" y1="322.36" x2="133.90" y2="322.36" stroke="#aaa" stroke-width="0.4" />
<line x1="137.29" y1="381.70" x2="137.29" y2="382.50" stroke="#aaa" stroke-width="0.4" />
<line x1="141.48" y1="381.70" x2="141.48" y2="382.50" stroke="#aaa" stroke-width="0.4" />
<line x1="145.67" y1="381.70" x2="145.67" y2="382.50" stroke="#aaa" stroke-width="0.4" />
<line x1="149.87" y1="381.70" x2="149.87" y2="382.50" stroke="#aaa" stroke-width="0.4" />
<line x1="154.06" y1="381.70" x2="154.06" y2="382.50" stroke="#aaa" stroke-width="0.4" />
<line x1="158.25" y1="381.70" x2="158.25" y2="382.50" stroke="#aaa" stroke-width="0.4" />
<line x1="162.44" y1="381.70" x2="162.44" y2="382.50" stroke="#aaa" stroke-width="0.4" />
<line x1="166.63" y1="381.70" x2="166.63" y2="382.50" stroke="#aaa" stroke-width="0.4" />
<line x1="170.82" y1="381.70" x2="170.82" y2="382.50" stroke="#aaa" stroke-width="0.4" />
<line x1="175.02" y1="381.70" x2="175.02" y2="382.50" stroke="#aaa" stroke-width="0.4" />
<line x1="179.21" y1="381.70" x2="179.21" y2="382.50" stroke="#aaa" stroke-width="0.4" />
<line x1="133.10" y1="336.78" x2="133.90" y2="336.78" stroke="#aaa" stroke-width="0.4" />
<line x1="133.10" y1="341.86" x2="133.90" y2="341.86" stroke="#aaa" stroke-width="0.4" />
<line x1="133.10" y1="346.94" x2="133.90" y2="346.94" stroke="#aaa" stroke-width="0.4" />
<line x1="133.10" y1="352.02" x2="133.90" y2="352.02" stroke="#aaa" stroke-width="0.4" />
<line x1="133.10" y1="357.10" x2="133.90" y2="357.10" stroke="#aaa" stroke-width="0.4" />
<line x1="133.10" y1="362.18" x2="133.90" y2="362.18" stroke="#aaa" stroke-width="0.4" />
<line x1="133.10" y1="367.26" x2="133.90" y2="367.26" stroke="#aaa" stroke-width="0.4" />
<line x1="133.10" y1="372.34" x2="133.90" y2="372.34" stroke="#aaa" stroke-width="0.4" />
<line x1="133.10" y1="377.42" x2="133.90" y2="377.42" stroke="#aaa" stroke-width="0.4" />
<path d="M133.60,326.66 L134.01,326.61 L134.42,326.50 L134.84,326.27 L135.25,325.85 L135.66,325.09 L136.07,323.82 L136.48,321.81 L136.89,318.87 L137.31,314.81 L137.72,309.64 L138.13,303.53 L138.54,296.92 L138.95,290.49 L139.36,285.04 L139.78,281.36 L140.19,280.00 L140.60,281.19 L141.01,284.74 L141.42,290.10 L141.83,296.49 L142.25,303.11 L142.66,309.27 L143.07,314.51 L143.48,318.64 L143.89,321.65 L144.30,323.71 L144.72,325.03 L145.13,325.81 L145.54,326.25 L145.95,326.49 L146.36,326.61 L146.77,326.66 L147.19,326.68 L147.60,326.69 L148.01,326.70 L148.42,326.70 L148.83,326.70 L149.24,326.70 L149.66,326.70 L150.07,326.70 L150.48,326.70 L150.89,326.70 L151.30,326.70 L151.71,326.70 L152.12,326.70 L152.54,326.70 L152.95,326.70 L153.36,326.70 L153.77,326.70 L154.18,326.70 L154.59,326.70 L155.01,326.70 L155.42,326.70 L155.83,326.70 L156.24,326.70 L156.65,326.70 L157.06,326.70 L157.48,326.70 L157.89,326.70 L158.30,326.70 L158.71,326.70 L159.12,326.70 L159.53,326.70 L159.95,326.70 L160.36,326.70 L160.77,326.70 L161.18,326.70 L161.59,326.70 L162.00,326.70 L162.42,326.70 L162.83,326.70 L163.24,326.70 L163.65,326.70 L164.06,326.70 L164.47,326.70 L164.89,326.70 L165.30,326.70 L165.71,326.70 L166.12,326.70 L166.53,326.70 L166.94,326.70 L167.36,326.70 L167.77,326.70 L168.18,326.70 L168.59,326.70 L169.00,326.70 L169.41,326.70 L169.83,326.70 L170.24,326.70 L170.65,326.70 L171.06,326.70 L171.47,326.70 L171.88,326.70 L172.30,326.70 L172.71,326.70 L173.12,326.70 L173.53,326.70 L173.94,326.70 L174.35,326.70 L174.77,326.70 L175.18,326.70 L175.59,326.70 L176.00,326.70 L176.41,326.70 L176.82,326.70 L177.24,326.70 L177.65,326.70 L178.06,326.70 L178.47,326.70 L178.88,326.70 L179.30,326.70 L179.71,326.70 L180.12,326.70 L180.53,326.70 L180.94,326.70 L181.35,326.70 L181.76,326.70 L182.18,326.70 L182.59,326.70 L183.00,326.70 L183.00,326.70 L133.60,326.70 Z" fill="#a0a0a0" stroke="#777" stroke-width="0.4" />
<path d="M133.60,326.70 L134.01,326.70 L134.42,326.70 L134.84,326.70 L135.25,326.70 L135.66,326.70 L136.07,326.70 L136.48,326.70 L136.89,326.70 L137.31,326.70 L137.72,326.70 L138.13,326.70 L138.54,326.69 L138.95,326.69 L139.36,326.67 L139.78,326.63 L140.19,326.55 L140.60,326.40 L141.01,326.13 L141.42,325.66 L141.83,324.88 L142.25,323.65 L142.66,321.81 L143.07,319.22 L143.48,315.74 L143.89,311.34 L144.30,306.12 L144.72,300.33 L145.13,294.38 L145.54,288.82 L145.95,284.23 L146.36,281.17 L146.77,280.00 L147.19,280.90 L147.60,283.74 L148.01,288.16 L148.42,293.63 L148.83,299.56 L149.24,305.40 L149.66,310.71 L150.07,315.22 L150.48,318.82 L150.89,321.52 L151.30,323.45 L151.71,324.75 L152.12,325.58 L152.54,326.08 L152.95,326.38 L153.36,326.54 L153.77,326.62 L154.18,326.66 L154.59,326.68 L155.01,326.69 L155.42,326.70 L155.83,326.70 L156.24,326.70 L156.65,326.70 L157.06,326.70 L157.48,326.70 L157.89,326.70 L158.30,326.70 L158.71,326.70 L159.12,326.70 L159.53,326.70 L159.95,326.70 L160.36,326.70 L160.77,326.70 L161.18,326.70 L161.59,326.70 L162.00,326.70 L162.42,326.70 L162.83,326.70 L163.24,326.70 L163.65,326.70 L164.06,326.70 L164.47,326.70 L164.89,326.70 L165.30,326.70 L165.71,326.70 L166.12,326.70 L166.53,326.70 L166.94,326.70 L167.36,326.70 L167.77,326.70 L168.18,326.70 L168.59,326.70 L169.00,326.70 L169.41,326.70 L169.83,326.70 L170.24,326.70 L170.65,326.70 L171.06,326.70 L171.47,326.70 L171.88,326.70 L172.30,326.70 L172.71,326.70 L173.12,326.70 L173.53,326.70 L173.94,326.70 L174.35,326.70 L174.77,326.70 L175.18,326.70 L175.59,326.70 L176.00,326.70 L176.41,326.70 L176.82,326.70 L177.24,326.70 L177.65,326.70 L178.06,326.70 L178.47,326.70 L178.88,326.70 L179.30,326.70 L179.71,326.70 L180.12,326.70 L180.53,326.70 L180.94,326.70 L181.35,326.70 L181.76,326.70 L182.18,326.70 L182.59,326.70 L183.00,326.70" fill="none" stroke="#333" stroke-width="0.6" />
<path d="M133.60,380.83 L134.01,380.10 L134.42,379.04 L134.84,376.64 L135.25,373.33 L135.66,369.31 L136.07,365.07 L136.48,361.36 L136.89,358.97 L137.31,358.47 L137.72,359.98 L138.13,358.85 L138.54,356.81 L138.95,352.80 L139.36,346.83 L139.78,344.41 L140.19,334.62 L140.60,347.60 L141.01,358.52 L141.42,360.93 L141.83,363.61 L142.25,366.40 L142.66,369.14 L143.07,371.70 L143.48,374.00 L143.89,375.98 L144.30,377.63 L144.72,378.95 L145.13,379.97 L145.54,380.73 L145.95,381.29 L146.36,381.68 L146.77,381.94 L147.19,382.12 L147.60,382.23 L148.01,382.30 L148.42,382.34 L148.83,382.37 L149.24,382.38 L149.66,382.39 L150.07,382.40 L150.48,382.40 L150.89,382.40 L151.30,382.40 L151.71,382.40 L152.12,382.40 L152.54,382.40 L152.95,382.40 L153.36,382.40 L153.77,382.40 L154.18,382.40 L154.59,382.40 L155.01,382.40 L155.42,382.40 L155.83,382.40 L156.24,382.40 L156.65,382.40 L157.06,382.40 L157.48,382.40 L157.89,382.40 L158.30,382.40 L158.71,382.40 L159.12,382.40 L159.53,382.40 L159.95,382.40 L160.36,382.40 L160.77,382.40 L161.18,382.40 L161.59,382.40 L162.00,382.40 L162.42,382.40 L162.83,382.40 L163.24,382.40 L163.65,382.40 L164.06,382.40 L164.47,382.40 L164.89,382.40 L165.30,382.40 L165.71,382.40 L166.12,382.40 L166.53,382.40 L166.94,382.40 L167.36,382.40 L167.77,382.40 L168.18,382.40 L168.59,382.40 L169.00,382.40 L169.41,382.40 L169.83,382.40 L170.24,382.40 L170.65,382.40 L171.06,382.40 L171.47,382.40 L171.88,382.40 L172.30,382.40 L172.71,382.40 L173.12,382.40 L173.53,382.40 L173.94,382.40 L174.35,382.40 L174.77,382.40 L175.18,382.40 L175.59,382.40 L176.00,382.40 L176.41,382.40 L176.82,382.40 L177.24,382.40 L177.65,382.40 L178.06,382.40 L178.47,382.40 L178.88,382.40 L179.30,382.40 L179.71,382.40 L180.12,382.40 L180.53,382.40 L180.94,382.40 L181.35,382.40 L181.76,382.40 L182.18,382.40 L182.59,382.40 L183.00,382.40 L183.00,382.40 L133.60,382.40 Z" fill="#a0a0a0" stroke="#777" stroke-width="0.4" />
<path d="M133.60,382.40 L134.01,382.40 L134.42,382.40 L134.84,382.40 L135.25,382.40 L135.66,382.40 L136.07,382.40 L136.48,382.40 L136.89,382.40 L137.31,382.40 L137.72,382.40 L138.13,382.40 L138.54,382.40 L138.95,382.40 L139.36,382.40 L139.78,382.40 L140.19,382.39 L140.60,382.35 L141.01,382.23 L141.42,381.88 L141.83,380.96 L142.25,378.96 L142.66,375.26 L143.07,369.50 L143.48,362.15 L143.89,354.77 L144.30,349.61 L144.72,348.59 L145.13,352.08 L145.54,354.10 L145.95,345.02 L146.36,338.11 L146.77,335.31 L147.19,337.48 L147.60,343.96 L148.01,352.88 L148.42,352.47 L148.83,353.52 L149.24,357.64 L149.66,363.52 L150.07,369.61 L150.48,374.69 L150.89,378.27 L151.30,380.43 L151.71,381.57 L152.12,382.09 L152.54,382.30 L152.95,382.37 L153.36,382.39 L153.77,382.40 L154.18,382.40 L154.59,382.40 L155.01,382.40 L155.42,382.40 L155.83,382.40 L156.24,382.40 L156.65,382.40 L157.06,382.40 L157.48,382.40 L157.89,382.40 L158.30,382.40 L158.71,382.40 L159.12,382.40 L159.53,382.40 L159.95,382.40 L160.36,382.40 L160.77,382.40 L161.18,382.40 L161.59,382.40 L162.00,382.40 L162.42,382.40 L162.83,382.40 L163.24,382.40 L163.65,382.40 L164.06,382.40 L164.47,382.40 L164.89,382.40 L165.30,382.40 L165.71,382.40 L166.12,382.40 L166.53,382.40 L166.94,382.40 L167.36,382.40 L167.77,382.40 L168.18,382.40 L168.59,382.40 L169.00,382.40 L169.41,382.40 L169.83,382.40 L170.24,382.40 L170.65,382.40 L171.06,382.40 L171.47,382.40 L171.88,382.40 L172.30,382.40 L172.71,382.40 L173.12,382.40 L173.53,382.40 L173.94,382.40 L174.35,382.40 L174.77,382.40 L175.18,382.40 L175.59,382.40 L176.00,382.40 L176.41,382.40 L176.82,382.40 L177.24,382.40 L177.65,382.40 L178.06,382.40 L178.47,382.40 L178.88,382.40 L179.30,382.40 L179.71,382.40 L180.12,382.40 L180.53,382.40 L180.94,382.40 L181.35,382.40 L181.76,382.40 L182.18,382.40 L182.59,382.40 L183.00,382.40" fill="none" stroke="#333" stroke-width="0.6" />
<line x1="132.50" y1="386.80" x2="178.80" y2="386.80" stroke="#111" stroke-width="1.1" />
<polygon points="178.30,384.30 183.80,386.80 178.30,389.30" fill="#111"/>
<text x="181.30" y="394.30" font-size="5.8" text-anchor="end" textLength="13.30" lengthAdjust="spacingAndGlyphs" >ROR1</text>
<text x="309.50" y="287.00" font-size="10.5" font-weight="bold" style="stroke:#000;stroke-width:0.35px" fill="#000" >F</text>
<line x1="338.90" y1="299.50" x2="338.90" y2="357.30" stroke="#000" stroke-width="0.6" />
<line x1="338.90" y1="357.30" x2="441.20" y2="357.30" stroke="#000" stroke-width="0.6" />
<line x1="337.60" y1="357.30" x2="338.90" y2="357.30" stroke="#000" stroke-width="0.5" />
<text x="337.30" y="359.00" font-size="5.0" text-anchor="end" textLength="2.80" lengthAdjust="spacingAndGlyphs" >0</text>
<line x1="337.60" y1="338.03" x2="338.90" y2="338.03" stroke="#000" stroke-width="0.5" />
<text x="337.30" y="339.73" font-size="5.0" text-anchor="end" textLength="5.30" lengthAdjust="spacingAndGlyphs" >20</text>
<line x1="337.60" y1="318.77" x2="338.90" y2="318.77" stroke="#000" stroke-width="0.5" />
<text x="337.30" y="320.47" font-size="5.0" text-anchor="end" textLength="5.30" lengthAdjust="spacingAndGlyphs" >40</text>
<line x1="337.60" y1="299.50" x2="338.90" y2="299.50" stroke="#000" stroke-width="0.5" />
<text x="337.30" y="301.20" font-size="5.0" text-anchor="end" textLength="5.30" lengthAdjust="spacingAndGlyphs" >60</text>
<text x="328.00" y="326.30" font-size="5.0" text-anchor="middle" textLength="36.70" lengthAdjust="spacingAndGlyphs" transform="rotate(-90 328.00 326.30)" >% specific lysis</text>
<rect x="343.00" y="302.87" width="5.50" height="54.43" fill="#000" stroke="none" stroke-width="0.6" />
<rect x="349.80" y="356.14" width="5.40" height="1.16" fill="#888" stroke="#222" stroke-width="0.35" />
<rect x="363.30" y="352.00" width="5.50" height="5.30" fill="#000" stroke="none" stroke-width="0.6" />
<rect x="370.10" y="356.14" width="5.40" height="1.16" fill="#888" stroke="#222" stroke-width="0.35" />
<rect x="384.20" y="330.04" width="5.50" height="27.26" fill="#000" stroke="none" stroke-width="0.6" />
<rect x="391.00" y="356.14" width="5.40" height="1.16" fill="#888" stroke="#222" stroke-width="0.35" />
<rect x="405.10" y="328.21" width="5.50" height="29.09" fill="#000" stroke="none" stroke-width="0.6" />
<rect x="411.90" y="356.14" width="5.40" height="1.16" fill="#888" stroke="#222" stroke-width="0.35" />
<rect x="425.40" y="332.25" width="5.50" height="25.05" fill="#000" stroke="none" stroke-width="0.6" />
<rect x="432.20" y="356.14" width="5.40" height="1.16" fill="#888" stroke="#222" stroke-width="0.35" />
<line x1="358.40" y1="357.30" x2="358.40" y2="358.60" stroke="#000" stroke-width="0.5" />
<line x1="379.50" y1="357.30" x2="379.50" y2="358.60" stroke="#000" stroke-width="0.5" />
<line x1="400.30" y1="357.30" x2="400.30" y2="358.60" stroke="#000" stroke-width="0.5" />
<line x1="420.80" y1="357.30" x2="420.80" y2="358.60" stroke="#000" stroke-width="0.5" />
<line x1="441.20" y1="357.30" x2="441.20" y2="358.60" stroke="#000" stroke-width="0.5" />
<text x="351.60" y="363.60" font-size="5.0" text-anchor="end" textLength="30.50" lengthAdjust="spacingAndGlyphs" transform="rotate(-45 351.60 363.60)" >K562/ROR1</text>
<text x="373.60" y="363.60" font-size="5.0" text-anchor="end" textLength="10.20" lengthAdjust="spacingAndGlyphs" transform="rotate(-45 373.60 363.60)" >K562</text>
<text x="394.00" y="363.60" font-size="5.0" text-anchor="end" textLength="40.50" lengthAdjust="spacingAndGlyphs" transform="rotate(-45 394.00 363.60)" >B-CLL unsorted</text>
<text x="414.30" y="363.60" font-size="5.0" text-anchor="end" textLength="26.20" lengthAdjust="spacingAndGlyphs" transform="rotate(-45 414.30 363.60)" >B-CLL SP</text>
<text x="436.00" y="363.60" font-size="5.0" text-anchor="end" textLength="38.50" lengthAdjust="spacingAndGlyphs" transform="rotate(-45 436.00 363.60)" >B-CLL non-SP</text>
<rect x="439.60" y="304.20" width="7.40" height="5.00" fill="#000" stroke="none" stroke-width="0.6" />
<rect x="439.80" y="314.00" width="7.00" height="4.60" fill="#888" stroke="#222" stroke-width="0.5" />
<text x="449.90" y="308.80" font-size="6.0" textLength="43.90" lengthAdjust="spacingAndGlyphs" >ROR1-CAR clone</text>
<text x="449.90" y="318.40" font-size="6.0" textLength="56.60" lengthAdjust="spacingAndGlyphs" >GFP-transduced clone</text>
</svg>
</body></html>
